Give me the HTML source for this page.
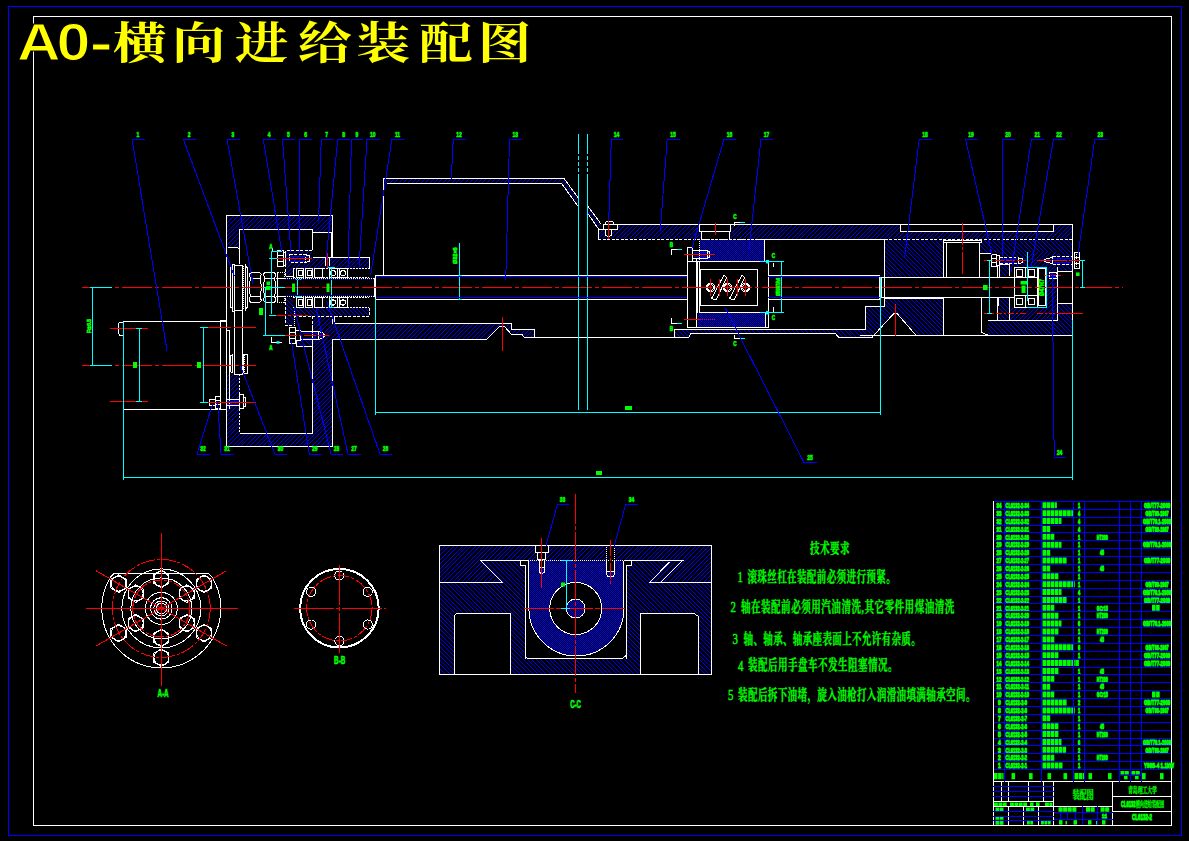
<!DOCTYPE html><html><head><meta charset="utf-8"><title>A0</title><style>html,body{margin:0;padding:0;background:#000;overflow:hidden;}svg{display:block;font-family:"Liberation Sans",sans-serif;}</style></head><body>
<svg width="1189" height="841" viewBox="0 0 1189 841">
<defs>
<pattern id="h1" width="22" height="22" patternUnits="userSpaceOnUse"><rect width="22" height="22" fill="#000"/><path d="M0 0h1v1h-1zM4 0h1v1h-1zM9 0h1v1h-1zM13 0h1v1h-1zM18 0h1v1h-1zM3 1h1v1h-1zM8 1h1v1h-1zM12 1h1v1h-1zM17 1h1v1h-1zM21 1h1v1h-1zM2 2h1v1h-1zM7 2h1v1h-1zM11 2h1v1h-1zM16 2h1v1h-1zM20 2h1v1h-1zM1 3h1v1h-1zM6 3h1v1h-1zM10 3h1v1h-1zM15 3h1v1h-1zM19 3h1v1h-1zM0 4h1v1h-1zM5 4h1v1h-1zM9 4h1v1h-1zM14 4h1v1h-1zM18 4h1v1h-1zM4 5h1v1h-1zM8 5h1v1h-1zM13 5h1v1h-1zM17 5h1v1h-1zM21 5h1v1h-1zM3 6h1v1h-1zM7 6h1v1h-1zM12 6h1v1h-1zM16 6h1v1h-1zM20 6h1v1h-1zM2 7h1v1h-1zM6 7h1v1h-1zM11 7h1v1h-1zM15 7h1v1h-1zM19 7h1v1h-1zM1 8h1v1h-1zM5 8h1v1h-1zM10 8h1v1h-1zM14 8h1v1h-1zM18 8h1v1h-1zM0 9h1v1h-1zM4 9h1v1h-1zM9 9h1v1h-1zM13 9h1v1h-1zM17 9h1v1h-1zM3 10h1v1h-1zM8 10h1v1h-1zM12 10h1v1h-1zM16 10h1v1h-1zM21 10h1v1h-1zM2 11h1v1h-1zM7 11h1v1h-1zM11 11h1v1h-1zM15 11h1v1h-1zM20 11h1v1h-1zM1 12h1v1h-1zM6 12h1v1h-1zM10 12h1v1h-1zM14 12h1v1h-1zM19 12h1v1h-1zM0 13h1v1h-1zM5 13h1v1h-1zM9 13h1v1h-1zM13 13h1v1h-1zM18 13h1v1h-1zM4 14h1v1h-1zM8 14h1v1h-1zM12 14h1v1h-1zM17 14h1v1h-1zM21 14h1v1h-1zM3 15h1v1h-1zM7 15h1v1h-1zM11 15h1v1h-1zM16 15h1v1h-1zM20 15h1v1h-1zM2 16h1v1h-1zM6 16h1v1h-1zM10 16h1v1h-1zM15 16h1v1h-1zM19 16h1v1h-1zM1 17h1v1h-1zM5 17h1v1h-1zM9 17h1v1h-1zM14 17h1v1h-1zM18 17h1v1h-1zM0 18h1v1h-1zM4 18h1v1h-1zM8 18h1v1h-1zM13 18h1v1h-1zM17 18h1v1h-1zM3 19h1v1h-1zM7 19h1v1h-1zM12 19h1v1h-1zM16 19h1v1h-1zM21 19h1v1h-1zM2 20h1v1h-1zM6 20h1v1h-1zM11 20h1v1h-1zM15 20h1v1h-1zM20 20h1v1h-1zM1 21h1v1h-1zM5 21h1v1h-1zM10 21h1v1h-1zM14 21h1v1h-1zM19 21h1v1h-1z" fill="#00f" shape-rendering="crispEdges"/></pattern>
<pattern id="h2" width="22" height="22" patternUnits="userSpaceOnUse"><rect width="22" height="22" fill="#000"/><path d="M0 0h1v1h-1zM4 0h1v1h-1zM9 0h1v1h-1zM13 0h1v1h-1zM18 0h1v1h-1zM1 1h1v1h-1zM5 1h1v1h-1zM10 1h1v1h-1zM14 1h1v1h-1zM19 1h1v1h-1zM2 2h1v1h-1zM6 2h1v1h-1zM11 2h1v1h-1zM15 2h1v1h-1zM20 2h1v1h-1zM3 3h1v1h-1zM7 3h1v1h-1zM12 3h1v1h-1zM16 3h1v1h-1zM21 3h1v1h-1zM0 4h1v1h-1zM4 4h1v1h-1zM8 4h1v1h-1zM13 4h1v1h-1zM17 4h1v1h-1zM1 5h1v1h-1zM5 5h1v1h-1zM9 5h1v1h-1zM14 5h1v1h-1zM18 5h1v1h-1zM2 6h1v1h-1zM6 6h1v1h-1zM10 6h1v1h-1zM15 6h1v1h-1zM19 6h1v1h-1zM3 7h1v1h-1zM7 7h1v1h-1zM11 7h1v1h-1zM16 7h1v1h-1zM20 7h1v1h-1zM4 8h1v1h-1zM8 8h1v1h-1zM12 8h1v1h-1zM17 8h1v1h-1zM21 8h1v1h-1zM0 9h1v1h-1zM5 9h1v1h-1zM9 9h1v1h-1zM13 9h1v1h-1zM18 9h1v1h-1zM1 10h1v1h-1zM6 10h1v1h-1zM10 10h1v1h-1zM14 10h1v1h-1zM19 10h1v1h-1zM2 11h1v1h-1zM7 11h1v1h-1zM11 11h1v1h-1zM15 11h1v1h-1zM20 11h1v1h-1zM3 12h1v1h-1zM8 12h1v1h-1zM12 12h1v1h-1zM16 12h1v1h-1zM21 12h1v1h-1zM0 13h1v1h-1zM4 13h1v1h-1zM9 13h1v1h-1zM13 13h1v1h-1zM17 13h1v1h-1zM1 14h1v1h-1zM5 14h1v1h-1zM10 14h1v1h-1zM14 14h1v1h-1zM18 14h1v1h-1zM2 15h1v1h-1zM6 15h1v1h-1zM11 15h1v1h-1zM15 15h1v1h-1zM19 15h1v1h-1zM3 16h1v1h-1zM7 16h1v1h-1zM12 16h1v1h-1zM16 16h1v1h-1zM20 16h1v1h-1zM4 17h1v1h-1zM8 17h1v1h-1zM13 17h1v1h-1zM17 17h1v1h-1zM21 17h1v1h-1zM0 18h1v1h-1zM5 18h1v1h-1zM9 18h1v1h-1zM14 18h1v1h-1zM18 18h1v1h-1zM1 19h1v1h-1zM6 19h1v1h-1zM10 19h1v1h-1zM15 19h1v1h-1zM19 19h1v1h-1zM2 20h1v1h-1zM7 20h1v1h-1zM11 20h1v1h-1zM16 20h1v1h-1zM20 20h1v1h-1zM3 21h1v1h-1zM8 21h1v1h-1zM12 21h1v1h-1zM17 21h1v1h-1zM21 21h1v1h-1z" fill="#00f" shape-rendering="crispEdges"/></pattern>
<pattern id="h3" width="7" height="7" patternUnits="userSpaceOnUse"><rect width="7" height="7" fill="#000"/><path d="M0 0h1v1h-1zM4 0h1v1h-1zM3 1h1v1h-1zM6 1h1v1h-1zM2 2h1v1h-1zM5 2h1v1h-1zM1 3h1v1h-1zM4 3h1v1h-1zM0 4h1v1h-1zM3 4h1v1h-1zM2 5h1v1h-1zM6 5h1v1h-1zM1 6h1v1h-1zM5 6h1v1h-1z" fill="#00f" shape-rendering="crispEdges"/></pattern>
<pattern id="h4" width="7" height="7" patternUnits="userSpaceOnUse"><rect width="7" height="7" fill="#000"/><path d="M0 0h1v1h-1zM4 0h1v1h-1zM1 1h1v1h-1zM5 1h1v1h-1zM2 2h1v1h-1zM6 2h1v1h-1zM0 3h1v1h-1zM3 3h1v1h-1zM1 4h1v1h-1zM4 4h1v1h-1zM2 5h1v1h-1zM5 5h1v1h-1zM3 6h1v1h-1zM6 6h1v1h-1z" fill="#00f" shape-rendering="crispEdges"/></pattern>
<pattern id="d1" width="2" height="2" patternUnits="userSpaceOnUse"><rect width="2" height="2" fill="#000"/><path d="M0 0h1v1h-1zM1 1h1v1h-1z" fill="#00f" shape-rendering="crispEdges"/></pattern>
<pattern id="d2" width="2" height="2" patternUnits="userSpaceOnUse"><rect width="2" height="2" fill="#000"/><path d="M0 0h1v1h-1zM1 1h1v1h-1z" fill="#00f" shape-rendering="crispEdges"/></pattern>
</defs>
<rect width="1189" height="841" fill="#000"/>
<g fill="none" stroke-width="1" shape-rendering="crispEdges">
<path d="M226 215L332.5 215L332.5 232L312.7 232L312.7 229L239.4 229L239.4 247L226 247Z" fill="url(#h1)" stroke="none"/>
<path d="M226 375L239.5 375L239.5 433L312.7 433L312.7 316L332 316L332 323.75L511.5 323.75L511.5 329.3L534.7 329.3L534.7 337.1L524.2 337.1L521.9 334.3L511.4 334.3L504.6 326.3L499.5 326.3L486.6 339.25L332.9 339.25L332.9 446L226 446Z" fill="url(#h1)" stroke="none"/>
<path d="M383.75 178.3L564 178.3L578.5 198.2L578.5 207L561.7 183.5L383.75 183.5Z" fill="url(#h1)" stroke="none"/>
<path d="M587.5 205.6L601.2 224.3L598.4 228.8L587.5 213.1Z" fill="url(#h1)" stroke="none"/>
<path d="M285.7 250L312 250L312 257L369.2 257L369.2 268.6L293.3 268.6L293.3 276.2L285.7 276.2Z" fill="url(#h1)" stroke="none"/>
<path d="M285.25 297.7L293.3 297.7L293.3 307.3L369.2 307.3L369.2 316.4L294.3 316.4L294.3 325.5L285.25 325.5Z" fill="url(#h2)" stroke="none"/>
<path d="M296.4 339.6L312.5 339.6L312.5 346.7L296.4 346.7Z" fill="url(#h2)" stroke="none"/>
<path d="M598.4 229.3L603.2 229.3L603.2 224L1072.3 224L1072.3 239L598.4 239Z" fill="url(#h1)" stroke="none"/>
<path d="M699 224L730.75 224L730.75 231.75L699 231.75Z" fill="#000" stroke="none"/>
<path d="M701 231.75L729 231.75L729 239L701 239Z" fill="#000" stroke="none"/>
<path d="M900.4 224L1053.7 224L1053.7 231.4L900.4 231.4Z" fill="#000" stroke="none"/>
<path d="M603.2 224L617.9 224L617.9 229.8L603.2 229.8Z" fill="#000" stroke="none"/>
<path d="M605.7 229.8L611.3 229.8L611.3 237.5L605.7 237.5Z" fill="#000" stroke="none"/>
<path d="M699 240L764.75 240L764.75 261.25L699 261.25Z" fill="url(#d2)" stroke="none"/>
<path d="M697.75 312.5L765.25 312.5L765.25 327.5L697.75 327.5Z" fill="url(#d2)" stroke="none"/>
<path d="M674 329.5L865.7 329.5L865.7 306.4L884.4 306.4L884.4 298.6L943.7 298.6L943.7 335.4L916.1 335.4L897.1 313.5L893.8 313.5L871.9 337.5L839 337.5L835.25 333.75L691 333.75L688.5 337.5L674 337.5Z" fill="url(#h2)" stroke="none"/>
<path d="M884.75 239.5L943.9 239.5L943.9 277.3L884.75 277.3Z" fill="url(#h2)" stroke="none"/>
<path d="M979.75 239.5L1072.3 239.5L1072.3 271.9L1057.9 271.9L1057.9 267.3L1046.3 267.3L1027.6 267.3L1014.4 267.3L1014.4 264.3L999.3 264.3L999.3 253.2L979.75 253.2Z" fill="url(#h2)" stroke="none"/>
<path d="M1046.3 252.2L1057.9 252.2L1057.9 320.3L1009.4 320.3L1009.4 307.7L1046.3 307.7Z" fill="url(#h1)" stroke="none"/>
<path d="M1027.6 252.2L1046.3 252.2L1046.3 267.3L1027.6 267.3Z" fill="url(#h1)" stroke="none"/>
<path d="M999.3 264.3L1009.9 264.3L1009.9 276L999.3 276Z" fill="url(#h2)" stroke="none"/>
<path d="M998.8 298.2L1009.4 298.2L1009.4 320.3L998.8 320.3Z" fill="url(#h2)" stroke="none"/>
<path d="M988.1 320.3L1057.9 320.3L1057.9 303.6L1072.3 303.6L1072.3 335.5L988.1 335.5Z" fill="url(#h2)" stroke="none"/>
<path d="M1057.9 271.9L1072.3 271.9L1072.3 303.6L1057.9 303.6Z" fill="#000" stroke="none"/>
<path d="M1038.2 268.9L1045.8 268.9L1045.8 305.8L1038.2 305.8Z" fill="#000" stroke="none"/>
<path d="M439.5 545.5L711.8 545.5L711.8 674.5L439.5 674.5Z" fill="url(#h2)" stroke="none"/>
<path d="M439.5 545.5L711.8 545.5L711.8 582.1L660.7 582.1L682.8 560.65L623.5 560.65L528.4 560.65L480.5 560.65L502.5 582.1L439.5 582.1Z" fill="url(#h1)" stroke="none"/>
<path d="M682.8 560.65L660.7 582.1L649.4 582.1L669.6 562Z" fill="url(#h1)" stroke="none"/>
<path d="M454.3 613.3L510.7 613.3L510.7 674.5L454.3 674.5Z" fill="#000" stroke="none"/>
<path d="M640.3 613.3L698 613.3L698 674.5L640.3 674.5Z" fill="#000" stroke="none"/>
<path d="M525.6 565.7L626.7 565.7L626.7 658.75L525.6 658.75Z" fill="#000" stroke="none"/>
<path d="M520.2 560.65L528.4 560.65L528.4 565.7L520.2 565.7Z" fill="#000" stroke="none"/>
<path d="M623.5 560.65L631 560.65L631 565.7L623.5 565.7Z" fill="#000" stroke="none"/>
<path d="M528.4 561.2H623.5V608.5A47.4 47.4 0 0 1 528.4 608.5Z" fill="url(#d2)" stroke="none"/>
<circle cx="575.7" cy="608.5" r="26" fill="#000" stroke="none"/>
<circle cx="575.7" cy="608.5" r="9.5" fill="url(#d2)" stroke="none"/>
<path d="M536 546.5L547.5 546.5L547.5 552L536 552Z" fill="#000" stroke="none"/>
<path d="M538.6 553L544.8 553L544.8 566.7L538.6 566.7Z" fill="#000" stroke="none"/>
<path d="M606.9 546.5L614.4 546.5L614.4 571L606.9 571Z" fill="#000" stroke="none"/>
</g>
<g fill="none" stroke-width="1" shape-rendering="crispEdges">
</g>
<g fill="none" stroke-width="1" shape-rendering="crispEdges">
<path d="M33.5 16.5L1171.5 16.5L1171.5 825.5L33.5 825.5Z" stroke="#fff" fill="none"/>
<path d="M226 321.5L123.5 321.5L123.5 409.5L226 409.5" stroke="#fff" fill="none"/>
<path d="M220.5 321L220.5 409" stroke="#fff"/>
<path d="M123.7 322.5L119.5 322.5L118.5 324L118.5 333L119.5 335.5L123.7 335.5" stroke="#fff" fill="none"/>
<path d="M226.5 446L226.5 215.5L332.5 215.5L332.5 257" stroke="#fff" fill="none"/>
<path d="M239.5 249L239.5 229.5L312.5 229.5L312.5 250" stroke="#fff" fill="none"/>
<path d="M312.7 232.5L331.5 232.5L331.5 257" stroke="#fff" fill="none"/>
<path d="M228 247.5L237.7 247.5L239.4 249" stroke="#fff" fill="none"/>
<path d="M239.5 249L239.5 264" stroke="#fff"/>
<path d="M226 446.5L332.5 446.5L332.5 339.25" stroke="#fff" fill="none"/>
<path d="M239.5 433.5L312.5 433.5L312.5 327" stroke="#fff" fill="none"/>
<path d="M226.5 375L226.5 446" stroke="#fff" stroke-dasharray="2 1.5"/>
<path d="M334.8 323.5L511.5 323.5L511.5 329.5L534.5 329.5L534.5 337.1" stroke="#fff" fill="none"/>
<path d="M332.9 339.5L486.6 339.5L499.5 326.5L504.6 326.5L511.4 334.5L521.9 334.5L524.2 337.5L579 337.5" stroke="#fff" fill="none"/>
<path d="M332.5 316.4L332.5 323.7" stroke="#fff" fill="none"/>
<path d="M334.5 316.4L334.5 323.7" stroke="#fff"/>
<path d="M383.5 275L383.5 178.5L564 178.5L578.5 198.2" stroke="#fff" fill="none"/>
<path d="M386.5 183.5L561.7 183.5L578.5 207" stroke="#fff" fill="none"/>
<path d="M587.5 205.6L601.2 224.3" stroke="#fff" fill="none"/>
<path d="M587.5 213.1L598.4 228.8" stroke="#fff" fill="none"/>
<path d="M375.5 299L375.5 275" stroke="#fff" fill="none"/>
<path d="M375.75 275.5L687 275.5" stroke="#fff"/>
<path d="M375.75 299.5L687 299.5" stroke="#fff"/>
<path d="M232.8 266.5L230.5 268L230.5 307L232.8 308.5" stroke="#fff" fill="none"/>
<path d="M232.5 264.5L234.5 264.5L234.5 311.5L232.5 311.5Z" stroke="#fff" fill="none"/>
<path d="M234.5 265.5L242.5 265.5L242.5 310.5L234.5 310.5Z" stroke="#fff" fill="none"/>
<path d="M243.5 266L243.5 309" stroke="#fff" stroke-dasharray="1 1"/>
<path d="M245.5 264L245.5 311" stroke="#fff"/>
<path d="M245.2 266L247.5 268L247.5 307L245.2 309" stroke="#fff" fill="none"/>
<path d="M251.1 272.5L259.3 272.5" stroke="#fff" fill="none"/>
<path d="M251.1 302.5L259.3 302.5" stroke="#fff" fill="none"/>
<path d="M250.1 278.5L260.3 278.5" stroke="#fff"/>
<path d="M250.1 296.5L260.3 296.5" stroke="#fff"/>
<path d="M251.1 272.3L249.1 274.3L250.4 278.64L249.1 285.4" stroke="#fff" fill="none"/>
<path d="M251.1 302.5L249.1 300.5L250.4 296.16L249.1 289.4" stroke="#fff" fill="none"/>
<path d="M259.3 272.3L261.3 274.3L260 278.64L261.3 285.4" stroke="#fff" fill="none"/>
<path d="M259.3 302.5L261.3 300.5L260 296.16L261.3 289.4" stroke="#fff" fill="none"/>
<path d="M249.5 285.4L249.5 289.4" stroke="#fff"/>
<path d="M261.5 285.4L261.5 289.4" stroke="#fff"/>
<path d="M265.4 272.5L273.9 272.5" stroke="#fff" fill="none"/>
<path d="M265.4 302.5L273.9 302.5" stroke="#fff" fill="none"/>
<path d="M264.4 278.5L274.9 278.5" stroke="#fff"/>
<path d="M264.4 296.5L274.9 296.5" stroke="#fff"/>
<path d="M265.4 272.3L263.4 274.3L264.7 278.64L263.4 285.4" stroke="#fff" fill="none"/>
<path d="M265.4 302.5L263.4 300.5L264.7 296.16L263.4 289.4" stroke="#fff" fill="none"/>
<path d="M273.9 272.3L275.9 274.3L274.6 278.64L275.9 285.4" stroke="#fff" fill="none"/>
<path d="M273.9 302.5L275.9 300.5L274.6 296.16L275.9 289.4" stroke="#fff" fill="none"/>
<path d="M263.5 285.4L263.5 289.4" stroke="#fff"/>
<path d="M275.5 285.4L275.5 289.4" stroke="#fff"/>
<path d="M275.9 278.5L285 278.5" stroke="#fff"/>
<path d="M275.9 296.5L285 296.5" stroke="#fff"/>
<path d="M277.5 272.3L277.5 302.5" stroke="#fff"/>
<path d="M277.5 272.5L284.5 272.5L284.5 278.5L277.5 278.5Z" stroke="#fff" fill="none" stroke-dasharray="1 1"/>
<path d="M277.5 296.5L284.5 296.5L284.5 302.5L277.5 302.5Z" stroke="#fff" fill="none" stroke-dasharray="1 1"/>
<path d="M285.5 276.2L285.5 250.5L312 250.5" stroke="#fff" fill="none" stroke-dasharray="3 1.5"/>
<path d="M312.7 257.5L369.5 257.5L369.5 268.6" stroke="#fff" fill="none"/>
<path d="M293.5 268.6L293.5 276.5L285.7 276.5" stroke="#fff" fill="none"/>
<path d="M285.5 297.7L285.5 325.5L294.3 325.5" stroke="#fff" fill="none" stroke-dasharray="3 1.5"/>
<path d="M294.3 316.5L369.5 316.5L369.5 307.3" stroke="#fff" fill="none" stroke-dasharray="3 1.5"/>
<path d="M294.5 307.3L294.5 325.5" stroke="#fff" stroke-dasharray="1 1"/>
<path d="M312.5 316.4L312.5 327" stroke="#fff" stroke-dasharray="3 1.5"/>
<path d="M296.5 339.6L296.5 346.5L312.5 346.5" stroke="#fff" fill="none"/>
<path d="M293.3 268.5L369.2 268.5" stroke="#fff" stroke-dasharray="2 1"/>
<path d="M293.3 277.5L369.2 277.5" stroke="#fff" stroke-dasharray="2 1"/>
<path d="M296.5 268.5L303.5 268.5L303.5 277.5L296.5 277.5Z" stroke="#fff" fill="none"/>
<path d="M305.5 268.5L312.5 268.5L312.5 277.5L305.5 277.5Z" stroke="#fff" fill="none"/>
<path d="M314.5 268.5L322.5 268.5L322.5 277.5L314.5 277.5Z" stroke="#fff" fill="none"/>
<path d="M329.5 268.5L337.5 268.5L337.5 277.5L329.5 277.5Z" stroke="#fff" fill="none"/>
<path d="M339.5 268.5L347.5 268.5L347.5 277.5L339.5 277.5Z" stroke="#fff" fill="none"/>
<path d="M298.5 270.5L302.5 270.5L302.5 275.5L298.5 275.5Z" stroke="#fff" fill="none"/>
<path d="M307.5 270.5L311.5 270.5L311.5 275.5L307.5 275.5Z" stroke="#fff" fill="none"/>
<circle cx="333" cy="273.15" r="2.6" stroke="#fff" fill="none"/>
<circle cx="343" cy="273.15" r="2.6" stroke="#fff" fill="none"/>
<path d="M293.3 297.5L369.2 297.5" stroke="#fff" stroke-dasharray="2 1"/>
<path d="M293.3 307.5L369.2 307.5" stroke="#fff" stroke-dasharray="2 1"/>
<path d="M296.5 297.5L303.5 297.5L303.5 307.5L296.5 307.5Z" stroke="#fff" fill="none"/>
<path d="M305.5 297.5L312.5 297.5L312.5 307.5L305.5 307.5Z" stroke="#fff" fill="none"/>
<path d="M314.5 297.5L322.5 297.5L322.5 307.5L314.5 307.5Z" stroke="#fff" fill="none"/>
<path d="M329.5 297.5L337.5 297.5L337.5 307.5L329.5 307.5Z" stroke="#fff" fill="none"/>
<path d="M339.5 297.5L347.5 297.5L347.5 307.5L339.5 307.5Z" stroke="#fff" fill="none"/>
<path d="M298.5 299.5L302.5 299.5L302.5 305.5L298.5 305.5Z" stroke="#fff" fill="none"/>
<path d="M307.5 299.5L311.5 299.5L311.5 305.5L307.5 305.5Z" stroke="#fff" fill="none"/>
<circle cx="333" cy="302.5" r="2.6" stroke="#fff" fill="none"/>
<circle cx="343" cy="302.5" r="2.6" stroke="#fff" fill="none"/>
<path d="M285 278.5L375 278.5" stroke="#fff" stroke-dasharray="1 1"/>
<path d="M285 296.5L375 296.5" stroke="#fff" stroke-dasharray="1 1"/>
<path d="M374.5 278.4L374.5 296.6" stroke="#fff"/>
<path d="M325.5 258L325.5 266" stroke="#fff" fill="none"/>
<path d="M329.5 258L329.5 266" stroke="#fff" fill="none"/>
<path d="M277.5 250.5L283.5 250.5L283.5 266.5L277.5 266.5Z" stroke="#fff" fill="none"/>
<path d="M277 255.5L283.7 255.5" stroke="#fff"/>
<path d="M277 261.5L283.7 261.5" stroke="#fff"/>
<path d="M283.5 252.5L285.5 252.5L285.5 265.5L283.5 265.5Z" stroke="#fff" fill="none"/>
<path d="M289.5 254.5L305.5 254.5L305.5 262.5L289.5 262.5Z" stroke="#fff" fill="none" stroke-dasharray="3 1.5"/>
<path d="M305 254.5L309.5 256L309.5 261L305 262.6" stroke="#fff" fill="none"/>
<path d="M289.5 327.5L295.5 327.5L295.5 343.5L289.5 343.5Z" stroke="#fff" fill="none"/>
<path d="M289.3 332.5L295.4 332.5" stroke="#fff"/>
<path d="M289.3 338.5L295.4 338.5" stroke="#fff"/>
<path d="M295.5 330.5L300.5 330.5L300.5 340.5L295.5 340.5Z" stroke="#fff" fill="none"/>
<path d="M300.5 331.5L318.5 331.5L318.5 339.5L300.5 339.5Z" stroke="#fff" fill="none"/>
<path d="M318.6 331.6L323 333L324.7 335.5L323 338L318.6 339.6" stroke="#fff" fill="none"/>
<path d="M271.5 337.1L271.5 342.5L281.7 342.5" stroke="#fff" fill="none"/>
<path d="M272.5 252L272.5 247.5L272.5 247.5" stroke="#fff" fill="none"/>
<path d="M234.5 310L234.5 374.3" stroke="#fff"/>
<path d="M242.5 310L242.5 374.3" stroke="#fff"/>
<path d="M232.6 354.3L230.5 356L230.5 371.5L232.6 373.3" stroke="#fff" fill="none"/>
<path d="M232.5 354.3L232.5 373.3" stroke="#fff"/>
<path d="M234 374.5L243 374.5" stroke="#fff"/>
<path d="M243.5 354.5L247.5 354.5L247.5 373.5L243.5 373.5Z" stroke="#fff" fill="none"/>
<path d="M244.5 355L244.5 373" stroke="#fff" stroke-dasharray="1 1"/>
<path d="M226.5 330.5L229.5 330.5L229.5 409" stroke="#fff" fill="none"/>
<path d="M239.5 374L239.5 433" stroke="#fff" stroke-dasharray="2 1.5"/>
<path d="M220.5 321.7L220.5 320.5L226.5 320.5" stroke="#fff" fill="none"/>
<path d="M209.5 399.5L215.5 399.5L215.5 405.5L209.5 405.5Z" stroke="#fff" fill="none"/>
<path d="M215.5 396.5L220.5 396.5L220.5 408.5L215.5 408.5Z" stroke="#fff" fill="none"/>
<path d="M215.5 400.5L220.3 400.5" stroke="#fff"/>
<path d="M215.5 404.5L220.3 404.5" stroke="#fff"/>
<path d="M226.5 399.5L239.5 399.5L239.5 405.5L226.5 405.5Z" stroke="#fff" fill="none"/>
<path d="M239.5 394.5L243.5 394.5L243.5 408.5L239.5 408.5Z" stroke="#fff" fill="none"/>
<path d="M243.5 397.5L245.5 397.5L245.5 406.5L243.5 406.5Z" stroke="#fff" fill="none"/>
<path d="M617.9 224.5L1072.3 224.5" stroke="#fff"/>
<path d="M598.4 239.5L764.75 239.5" stroke="#fff" stroke-dasharray="3 1.5"/>
<path d="M699 239.5L764.75 239.5" stroke="#fff" stroke-dasharray="1 1"/>
<path d="M764.75 239.5L884.75 239.5" stroke="#fff"/>
<path d="M884.75 239.5L1072.3 239.5" stroke="#fff" stroke-dasharray="3 1.5"/>
<path d="M603.2 229.5L598.5 229.5L598.5 239" stroke="#fff" fill="none"/>
<path d="M603.5 224.5L617.5 224.5L617.5 229.5L603.5 229.5Z" stroke="#fff" fill="none"/>
<path d="M605.5 224L605.5 222.5L607 221.5L612.5 221.5L613.5 222.5L613.5 224" stroke="#fff" fill="none"/>
<path d="M605.5 229.8L605.5 234.9L608.5 237.5L611.5 234.9L611.5 229.8" stroke="#fff" fill="none"/>
<path d="M699.5 224L699.5 231.5L730.5 231.5L730.5 224" stroke="#fff" fill="none"/>
<path d="M701.5 231.75L701.5 239" stroke="#fff" fill="none"/>
<path d="M729.5 231.75L729.5 239" stroke="#fff" fill="none"/>
<path d="M900.5 224L900.5 231.5L1053.5 231.5L1053.5 224" stroke="#fff" fill="none"/>
<path d="M764.5 239L764.5 261.25" stroke="#fff"/>
<path d="M699.5 239L699.5 261.25" stroke="#fff" stroke-dasharray="1 1"/>
<path d="M687.5 261.5L768.5 261.5L768.5 327.5L687.5 327.5Z" stroke="#fff" fill="none"/>
<path d="M687.5 248L687.5 327" stroke="#fff"/>
<path d="M696.5 261.25L696.5 327" stroke="#fff"/>
<path d="M697.5 261.25L697.5 312.5" stroke="#fff"/>
<path d="M699.5 261.25L699.5 312.5" stroke="#fff"/>
<path d="M699.5 312.5L768.25 312.5" stroke="#fff"/>
<path d="M765.5 312.5L765.5 327.5" stroke="#fff"/>
<path d="M700.5 269.5L757.5 269.5L757.5 305.5L700.5 305.5Z" stroke="#fff" fill="none"/>
<circle cx="710.25" cy="287.5" r="4.3" stroke="#fff" fill="none"/>
<circle cx="710.25" cy="287.5" r="3" stroke="#fff" fill="none"/>
<circle cx="727.25" cy="287.5" r="4.3" stroke="#fff" fill="none"/>
<circle cx="727.25" cy="287.5" r="3" stroke="#fff" fill="none"/>
<circle cx="745.75" cy="287.5" r="4.3" stroke="#fff" fill="none"/>
<circle cx="745.75" cy="287.5" r="3" stroke="#fff" fill="none"/>
<path d="M711.5 298.5L724 275L726.8 277.5L716 300Z" stroke="#fff" fill="none"/>
<path d="M729.5 298.5L742 275L744.8 277.5L734 300Z" stroke="#fff" fill="none"/>
<path d="M687.5 247.5L692.5 247.5L692.5 261.5L687.5 261.5Z" stroke="#fff" fill="none"/>
<path d="M692.5 250.5L707.5 250.5L707.5 258.5L692.5 258.5Z" stroke="#fff" fill="none"/>
<path d="M707 250.5L709.5 252L709.5 257L707 258" stroke="#fff" fill="none"/>
<path d="M687 261.5L696.5 261.5L697 259" stroke="#fff" fill="none"/>
<path d="M768.25 275.5L880.25 275.5" stroke="#fff"/>
<path d="M768.25 299.5L880.25 299.5" stroke="#fff"/>
<path d="M879.5 275L879.5 299" stroke="#fff"/>
<path d="M881.5 277L881.5 298" stroke="#fff"/>
<path d="M773.5 262.5L773.5 267" stroke="#fff"/>
<path d="M773.5 307L773.5 312" stroke="#fff"/>
<path d="M734.5 226L734.5 222.5L745.25 222.5" stroke="#fff" fill="none"/>
<path d="M734.5 334.5L734.5 338.5L744.75 338.5" stroke="#fff" fill="none"/>
<path d="M671.5 255L671.5 249.5L681.5 249.5" stroke="#fff" fill="none"/>
<path d="M671.5 317.5L671.5 323.5L681.5 323.5" stroke="#fff" fill="none"/>
<path d="M674.5 329.5L865.5 329.5L865.5 306.5L884.5 306.5L884.5 298.5L943.5 298.5L943.5 335.5L916.1 335.5L897.1 313.5L893.8 313.5L871.9 337.5L839 337.5L835.25 333.5L691 333.5L688.5 337.5L674.5 337.5Z" stroke="#fff" fill="none"/>
<path d="M534.5 337.5L674 337.5" stroke="#fff"/>
<path d="M884.5 239.5L884.5 277.5L943.5 277.5L943.5 239.5" stroke="#fff" fill="none"/>
<path d="M943.5 240.5L981.5 240.5L981.5 242.5L943.5 242.5Z" stroke="#fff" fill="none"/>
<path d="M946.5 242.2L946.5 277.3" stroke="#fff"/>
<path d="M979.5 242.2L979.5 277.3" stroke="#fff"/>
<path d="M943.5 299.2L943.5 334.6" stroke="#fff"/>
<path d="M981.5 298L981.5 332.5" stroke="#fff"/>
<path d="M981.5 332.5L987.6 335" stroke="#fff" fill="none"/>
<path d="M1014.4 277.5L881.5 277.5L881.5 297.5L1014.4 297.5" stroke="#fff" fill="none"/>
<path d="M884.5 277.3L884.5 297.4" stroke="#fff"/>
<path d="M1072.5 224L1072.5 320.8" stroke="#fff"/>
<path d="M979.5 242.2L979.5 277.3" stroke="#fff"/>
<path d="M979.75 253.5L991.7 253.5" stroke="#fff" fill="none"/>
<path d="M997.5 266L997.5 277.3" stroke="#fff"/>
<path d="M999.5 264.3L999.5 277.3" stroke="#fff"/>
<path d="M999.3 264.5L1009.5 264.5L1009.5 276" stroke="#fff" fill="none"/>
<path d="M997.5 297.6L997.5 320.3" stroke="#fff"/>
<path d="M998.5 297.6L998.5 306" stroke="#fff"/>
<path d="M1009.5 298.2L1009.5 320.3" stroke="#fff"/>
<path d="M988.1 320.5L1057.9 320.5" stroke="#fff"/>
<path d="M1057.5 267.3L1057.5 320.3" stroke="#fff"/>
<path d="M1057.9 271.5L1072.3 271.5" stroke="#fff"/>
<path d="M1057.9 303.5L1072.3 303.5" stroke="#fff"/>
<path d="M860 335.5L1072.3 335.5" stroke="#fff"/>
<path d="M1014.5 267.5L1037.5 267.5L1037.5 307.5L1014.5 307.5Z" stroke="#fff" fill="none"/>
<path d="M1014.4 277.5L1037.2 277.5" stroke="#fff"/>
<path d="M1014.4 295.5L1037.2 295.5" stroke="#fff"/>
<path d="M1016.5 269.5L1022.5 269.5L1022.5 276.5L1016.5 276.5Z" stroke="#fff" fill="none"/>
<path d="M1016.5 298.5L1022.5 298.5L1022.5 304.5L1016.5 304.5Z" stroke="#fff" fill="none"/>
<path d="M1028.5 269.5L1034.5 269.5L1034.5 276.5L1028.5 276.5Z" stroke="#fff" fill="none"/>
<path d="M1028.5 298.5L1034.5 298.5L1034.5 304.5L1028.5 304.5Z" stroke="#fff" fill="none"/>
<path d="M1025.5 267.3L1025.5 277.5" stroke="#fff"/>
<path d="M1025.5 295.7L1025.5 307.3" stroke="#fff"/>
<path d="M1038.5 268.5L1045.5 268.5L1045.5 305.5L1038.5 305.5Z" stroke="#fff" fill="none"/>
<path d="M991.5 254.5L996.5 254.5L996.5 266.5L991.5 266.5Z" stroke="#fff" fill="none"/>
<path d="M991.7 258.5L996.7 258.5" stroke="#fff"/>
<path d="M991.7 262.5L996.7 262.5" stroke="#fff"/>
<path d="M996.5 255.5L999.5 255.5L999.5 265.5L996.5 265.5Z" stroke="#fff" fill="none"/>
<path d="M999.5 257.5L1018.5 257.5L1018.5 263.5L999.5 263.5Z" stroke="#fff" fill="none" stroke-dasharray="3 1.5"/>
<path d="M1018 257.7L1022.5 259L1022.5 262.5L1018 263.8" stroke="#fff" fill="none"/>
<path d="M1074.5 252.5L1079.5 252.5L1079.5 268.5L1074.5 268.5Z" stroke="#fff" fill="none"/>
<path d="M1074 257.5L1079.6 257.5" stroke="#fff"/>
<path d="M1074 263.5L1079.6 263.5" stroke="#fff"/>
<path d="M1076.5 252.2L1076.5 268.9" stroke="#fff" stroke-dasharray="1 1"/>
<path d="M1052.5 256.5L1072.5 256.5L1072.5 264.5L1052.5 264.5Z" stroke="#fff" fill="none" stroke-dasharray="3 1.5"/>
<path d="M1052.8 257.5L1047 258.5L1043.7 260.5L1047 262.5L1052.8 263.5" stroke="#fff" fill="none"/>
<path d="M1049.5 272.5L1056.5 272.5L1056.5 278.5L1049.5 278.5Z" stroke="#fff" fill="none"/>
<path d="M111.07 576.5A59.5 59.5 0 1 0 211.53 576.5" stroke="#fff" fill="none"/>
<path d="M111.07 576.5L114 573.5L208.4 573.5L211.53 576.5" stroke="#fff" fill="none"/>
<circle cx="161.3" cy="608.4" r="39.5" stroke="#fff" fill="none"/>
<circle cx="161.3" cy="608.4" r="16" stroke="#fff" fill="none"/>
<circle cx="161.3" cy="608.4" r="10.7" stroke="#fff" fill="none"/>
<circle cx="161.3" cy="608.4" r="7.5" stroke="#fff" fill="none"/>
<circle cx="161.3" cy="608.4" r="5.3" stroke="#fff" fill="none"/>
<circle cx="161.3" cy="608.4" r="30.5" stroke="#fff" fill="none"/>
<path d="M204 592.55L196.37 588.15L196.37 579.35L204 574.95L211.62 579.35L211.62 588.15Z" stroke="#fff" fill="none"/>
<circle cx="204" cy="583.75" r="7.4" stroke="#fff" fill="none"/>
<path d="M118.6 592.55L110.98 588.15L110.98 579.35L118.6 574.95L126.23 579.35L126.23 588.15Z" stroke="#fff" fill="none"/>
<circle cx="118.6" cy="583.75" r="7.4" stroke="#fff" fill="none"/>
<path d="M118.6 641.85L110.98 637.45L110.98 628.65L118.6 624.25L126.23 628.65L126.23 637.45Z" stroke="#fff" fill="none"/>
<circle cx="118.6" cy="633.05" r="7.4" stroke="#fff" fill="none"/>
<path d="M204 641.85L196.37 637.45L196.37 628.65L204 624.25L211.62 628.65L211.62 637.45Z" stroke="#fff" fill="none"/>
<circle cx="204" cy="633.05" r="7.4" stroke="#fff" fill="none"/>
<path d="M161.3 666.5L153.68 662.1L153.68 653.3L161.3 648.9L168.92 653.3L168.92 662.1Z" stroke="#fff" fill="none"/>
<circle cx="161.3" cy="657.7" r="7.4" stroke="#fff" fill="none"/>
<path d="M186.85 602.45L179.23 598.05L179.23 589.25L186.85 584.85L194.47 589.25L194.47 598.05Z" stroke="#fff" fill="none"/>
<circle cx="186.85" cy="593.65" r="7.4" stroke="#fff" fill="none"/>
<path d="M161.3 587.7L153.68 583.3L153.68 574.5L161.3 570.1L168.92 574.5L168.92 583.3Z" stroke="#fff" fill="none"/>
<circle cx="161.3" cy="578.9" r="7.4" stroke="#fff" fill="none"/>
<path d="M135.75 602.45L128.13 598.05L128.13 589.25L135.75 584.85L143.37 589.25L143.37 598.05Z" stroke="#fff" fill="none"/>
<circle cx="135.75" cy="593.65" r="7.4" stroke="#fff" fill="none"/>
<path d="M135.75 631.95L128.13 627.55L128.13 618.75L135.75 614.35L143.37 618.75L143.37 627.55Z" stroke="#fff" fill="none"/>
<circle cx="135.75" cy="623.15" r="7.4" stroke="#fff" fill="none"/>
<path d="M161.3 646.7L153.68 642.3L153.68 633.5L161.3 629.1L168.92 633.5L168.92 642.3Z" stroke="#fff" fill="none"/>
<circle cx="161.3" cy="637.9" r="7.4" stroke="#fff" fill="none"/>
<path d="M186.85 631.95L179.23 627.55L179.23 618.75L186.85 614.35L194.47 618.75L194.47 627.55Z" stroke="#fff" fill="none"/>
<circle cx="186.85" cy="623.15" r="7.4" stroke="#fff" fill="none"/>
<circle cx="339.4" cy="608.2" r="39.3" stroke="#fff" fill="none" stroke-width="2"/>
<circle cx="367.72" cy="591.85" r="4.6" stroke="#fff" fill="none"/>
<circle cx="339.4" cy="575.5" r="4.6" stroke="#fff" fill="none"/>
<circle cx="311.08" cy="591.85" r="4.6" stroke="#fff" fill="none"/>
<circle cx="311.08" cy="624.55" r="4.6" stroke="#fff" fill="none"/>
<circle cx="339.4" cy="640.9" r="4.6" stroke="#fff" fill="none"/>
<circle cx="367.72" cy="624.55" r="4.6" stroke="#fff" fill="none"/>
<path d="M439.5 545.5L711.5 545.5L711.5 674.5L439.5 674.5Z" stroke="#fff" fill="none"/>
<path d="M439.5 582.5L502.5 582.5L480.5 560.5L520.5 560.5L520.5 565.5L525.5 565.5L525.5 658.75" stroke="#fff" fill="none"/>
<path d="M520.2 560.5L528.4 560.5" stroke="#fff"/>
<path d="M528.4 560.5L623.5 560.5" stroke="#fff" stroke-dasharray="1 1"/>
<path d="M711.8 582.5L649.4 582.5L669.6 562" stroke="#fff" fill="none"/>
<path d="M660.7 582.1L682.8 560.5L623.5 560.5" stroke="#fff" fill="none"/>
<path d="M631.5 560.65L631.5 565.5L626.5 565.5L626.5 658.75" stroke="#fff" fill="none"/>
<path d="M525.6 657L527.5 658.5L622.5 658.5L626.7 655" stroke="#fff" fill="none"/>
<path d="M528.9 560.65V608.5A47.4 47.4 0 0 0 623.9 608.5V560.65" stroke="#fff" fill="none"/>
<circle cx="575.7" cy="608.5" r="26" stroke="#fff" fill="none"/>
<circle cx="575.7" cy="608.5" r="9.5" stroke="#fff" fill="none"/>
<path d="M454.5 674.5L454.5 615.3L456.3 613.5L510.5 613.5L510.5 674.5" stroke="#fff" fill="none"/>
<path d="M640.5 674.5L640.5 613.5L694 613.5L698.5 616.5L698.5 674.5" stroke="#fff" fill="none"/>
<path d="M535.5 545.5L548.5 545.5L548.5 552.5L535.5 552.5Z" stroke="#fff" fill="none"/>
<path d="M537.5 552.5L545.5 552.5L545.5 559.5L537.5 559.5Z" stroke="#fff" fill="none"/>
<path d="M539.5 559.5L544.5 559.5L544.5 567.5L539.5 567.5Z" stroke="#fff" fill="none"/>
<path d="M539.5 567.2L539.5 572L541.5 574.2L544.5 572L544.5 567.2" stroke="#fff" fill="none"/>
<path d="M606.5 545.5L614.5 545.5L614.5 571.5L606.5 571.5Z" stroke="#fff" fill="none" stroke-dasharray="1 1"/>
<path d="M606.5 560.65L606.5 571" stroke="#fff"/>
<path d="M614.5 560.65L614.5 571" stroke="#fff"/>
<path d="M606.5 571L606.5 574L608 576.5L613 576.5L614.5 574L614.5 571.5L606.2 571.5" stroke="#fff" fill="none"/>
<path d="M993.5 501.4L993.5 825" stroke="#fff"/>
<path d="M993 781.5L1171 781.5" stroke="#fff"/>
<path d="M1053.5 781.5L1053.5 825" stroke="#fff"/>
<path d="M1112.5 781.5L1112.5 825" stroke="#fff"/>
<path d="M1112.5 796.5L1171 796.5" stroke="#fff"/>
<path d="M1112.5 811.5L1171 811.5" stroke="#fff"/>
<path d="M993 806.5L1112.5 806.5" stroke="#fff"/>
<path d="M993 801.5L1053.7 801.5" stroke="#fff"/>
<path d="M1001.5 781.5L1001.5 801.5" stroke="#fff"/>
<path d="M1008.5 781.5L1008.5 801.5" stroke="#fff"/>
<path d="M1028.5 781.5L1028.5 801.5" stroke="#fff"/>
<path d="M1043.5 781.5L1043.5 801.5" stroke="#fff"/>
<path d="M1008.5 806L1008.5 825" stroke="#fff"/>
<path d="M1023.5 806L1023.5 825" stroke="#fff"/>
<path d="M1038.5 806L1038.5 825" stroke="#fff"/>
</g>
<g fill="none" stroke-width="1" shape-rendering="crispEdges">
<path d="M82 287.5L1123 287.5" stroke="#f00" stroke-dasharray="30 3 4 3"/>
<path d="M82 365.5L256 365.5" stroke="#f00" stroke-dasharray="30 3 4 3"/>
<path d="M110 328.5L148 328.5" stroke="#f00"/>
<path d="M110 401.5L148 401.5" stroke="#f00"/>
<path d="M207 327.5L256 327.5" stroke="#f00" stroke-dasharray="24 3"/>
<path d="M207 402.5L256 402.5" stroke="#f00"/>
<path d="M502.5 316.8L502.5 351" stroke="#f00"/>
<path d="M327.5 253L327.5 268" stroke="#f00"/>
<path d="M276 258.5L312 258.5" stroke="#f00"/>
<path d="M285.25 335.5L328.7 335.5" stroke="#f00" stroke-dasharray="12 2 3 2"/>
<path d="M276.2 315.5L310 315.5" stroke="#f00" stroke-dasharray="10 2 3 2"/>
<path d="M208.4 402.5L256 402.5" stroke="#f00" stroke-dasharray="20 2 3 2"/>
<path d="M608.5 218.2L608.5 239.4" stroke="#f00"/>
<path d="M715.5 223L715.5 235" stroke="#f00"/>
<path d="M710.5 279L710.5 296" stroke="#f00"/>
<path d="M727.5 279L727.5 296" stroke="#f00"/>
<path d="M745.5 279L745.5 296" stroke="#f00"/>
<path d="M719.5 279L719.5 296" stroke="#f00"/>
<path d="M737.5 279L737.5 296" stroke="#f00"/>
<path d="M684 254.5L715 254.5" stroke="#f00"/>
<path d="M684 319.5L700 319.5" stroke="#f00"/>
<path d="M700 319.5L715.25 319.5" stroke="#f00" stroke-dasharray="1 1"/>
<path d="M895.5 304L895.5 336" stroke="#f00"/>
<path d="M962.5 223.4L962.5 276" stroke="#f00" stroke-dasharray="22 2 3 2"/>
<path d="M1044.2 275.5L1061 275.5" stroke="#f00" stroke-dasharray="5 2"/>
<path d="M984.1 260.5L1026.6 260.5" stroke="#f00" stroke-dasharray="9 2"/>
<path d="M1037.2 260.5L1083.7 260.5" stroke="#f00" stroke-dasharray="14 2"/>
<path d="M984.1 313.5L1027 313.5" stroke="#f00" stroke-dasharray="6 2 2 2"/>
<path d="M1037.2 313.5L1058 313.5" stroke="#f00" stroke-dasharray="6 2 2 2"/>
<path d="M1058 313.5L1083 313.5" stroke="#f00"/>
<circle cx="161.3" cy="608.4" r="49" stroke="#f00" fill="none" stroke-dasharray="14 2 3 2"/>
<circle cx="161.3" cy="608.4" r="28.5" stroke="#f00" fill="none" stroke-dasharray="14 2 3 2"/>
<path d="M86 608.5L238 608.5" stroke="#f00"/>
<path d="M161.5 532.8L161.5 686" stroke="#f00"/>
<path d="M96.09 646.05L226.51 570.75" stroke="#f00"/>
<path d="M226.51 646.05L96.09 570.75" stroke="#f00"/>
<circle cx="339.4" cy="608.2" r="32.7" stroke="#f00" fill="none" stroke-dasharray="12 2 3 2"/>
<path d="M294 608.5L386 608.5" stroke="#f00" stroke-dasharray="40 2 4 2"/>
<path d="M339.5 565L339.5 654" stroke="#f00" stroke-dasharray="40 2 4 2"/>
<path d="M541.5 538.2L541.5 588" stroke="#f00"/>
<path d="M610.5 540L610.5 583.6" stroke="#f00" stroke-dasharray="16 2 3 2"/>
<path d="M575.5 494L575.5 693" stroke="#f00" stroke-dasharray="30 2 4 2"/>
<path d="M524 608.5L625 608.5" stroke="#f00" stroke-dasharray="30 2 5 2"/>
</g>
<g fill="none" stroke-width="1" shape-rendering="crispEdges">
<path d="M139.5 328L139.5 401" stroke="#0ff"/>
<path d="M136 328.5L142 328.5" stroke="#0ff"/>
<path d="M136 401.5L142 401.5" stroke="#0ff"/>
<path d="M203.5 327L203.5 402" stroke="#0ff"/>
<path d="M200 327.5L208 327.5" stroke="#0ff"/>
<path d="M200 402.5L208 402.5" stroke="#0ff"/>
<path d="M92.5 287L92.5 365" stroke="#0ff"/>
<path d="M90 287.5L112 287.5" stroke="#0ff"/>
<path d="M90 365.5L112 365.5" stroke="#0ff"/>
<path d="M123.5 321.5L123.5 480" stroke="#0ff"/>
<path d="M578.5 134L578.5 154" stroke="#0ff"/>
<path d="M578.5 156L578.5 172" stroke="#0ff" stroke-dasharray="4 2"/>
<path d="M578.5 174L578.5 410" stroke="#0ff"/>
<path d="M587.5 134L587.5 154" stroke="#0ff"/>
<path d="M587.5 156L587.5 172" stroke="#0ff" stroke-dasharray="4 2"/>
<path d="M587.5 174L587.5 410" stroke="#0ff"/>
<path d="M459.5 243L459.5 299" stroke="#0ff"/>
<path d="M457.5 299.5L462 299.5" stroke="#0ff"/>
<path d="M457.5 275.5L462 275.5" stroke="#0ff"/>
<path d="M375.5 299L375.5 415" stroke="#0ff"/>
<path d="M375.75 412.5L880.75 412.5" stroke="#0ff"/>
<path d="M880.5 277L880.5 415" stroke="#0ff"/>
<path d="M123 477.5L1072.3 477.5" stroke="#0ff"/>
<path d="M1072.5 320L1072.5 480" stroke="#0ff"/>
<path d="M271.5 251.4L271.5 314.4" stroke="#0ff"/>
<path d="M271.6 251.5L281.6 251.5" stroke="#0ff"/>
<path d="M269 258.5L276.6 258.5" stroke="#0ff"/>
<path d="M269 315.5L276 315.5" stroke="#0ff"/>
<path d="M265.5 287.5L265.5 335.4" stroke="#0ff"/>
<path d="M263 335.5L285 335.5" stroke="#0ff"/>
<path d="M263 287.5L284.7 287.5" stroke="#0ff"/>
<path d="M297.5 279L297.5 296" stroke="#0ff"/>
<path d="M295 279.5L301 279.5" stroke="#0ff"/>
<path d="M295 296.5L301 296.5" stroke="#0ff"/>
<path d="M331.5 267.4L331.5 307.3" stroke="#0ff"/>
<path d="M327.7 307.5L333.8 307.5" stroke="#0ff"/>
<path d="M328 267.5L335 267.5" stroke="#0ff"/>
<path d="M781.5 261.25L781.5 312.5" stroke="#0ff"/>
<path d="M760 261.5L784 261.5" stroke="#0ff"/>
<path d="M760 312.5L784 312.5" stroke="#0ff"/>
<path d="M740 222.5L745 222.5" stroke="#0ff"/>
<path d="M740 338.5L745 338.5" stroke="#0ff"/>
<path d="M676.5 249.5L681.5 249.5" stroke="#0ff"/>
<path d="M676.5 323.5L681.5 323.5" stroke="#0ff"/>
<path d="M989.5 260.5L989.5 313.3" stroke="#0ff"/>
<path d="M987 260.5L992 260.5" stroke="#0ff"/>
<path d="M987 313.5L992 313.5" stroke="#0ff"/>
<path d="M1027.5 252.2L1027.5 300.7" stroke="#0ff"/>
<path d="M1027.6 267.5L1047.3 267.5" stroke="#0ff"/>
<path d="M1046.5 267.3L1046.5 307.3" stroke="#0ff"/>
<path d="M1027 307.5L1047.3 307.5" stroke="#0ff"/>
<path d="M1082.5 260.5L1082.5 287.5" stroke="#0ff"/>
<path d="M1080 260.5L1084.5 260.5" stroke="#0ff"/>
<path d="M1080 287.5L1084.5 287.5" stroke="#0ff"/>
<path d="M566.5 560.65L566.5 608.5" stroke="#0ff"/>
<path d="M561.2 560.5L572 560.5" stroke="#0ff"/>
<path d="M561 608.5L570 608.5" stroke="#0ff"/>
</g>
<g fill="none" stroke-width="1" shape-rendering="crispEdges">
<path d="M8.5 6.5L1181.5 6.5L1181.5 835.5L8.5 835.5Z" stroke="#00f" fill="none"/>
<path d="M132 139.5L144.5 139.5" stroke="#00f"/>
<path d="M132 139L167 350.5" stroke="#00f"/>
<path d="M183.25 139.5L195.75 139.5" stroke="#00f"/>
<path d="M183.25 139L234.5 276.5" stroke="#00f"/>
<path d="M227 139.5L239.5 139.5" stroke="#00f"/>
<path d="M227 139L253 284" stroke="#00f"/>
<path d="M263.25 139.5L275.75 139.5" stroke="#00f"/>
<path d="M263.25 139L281.6 250.5" stroke="#00f"/>
<path d="M282.5 139.5L295 139.5" stroke="#00f"/>
<path d="M282.5 139L290.8 250.5" stroke="#00f"/>
<path d="M300 139.5L312 139.5" stroke="#00f"/>
<path d="M300 139L299.5 251.3" stroke="#00f"/>
<path d="M321.25 139.5L332.75 139.5" stroke="#00f"/>
<path d="M321.25 139L318.6 221" stroke="#00f"/>
<path d="M337.75 139.5L350.25 139.5" stroke="#00f"/>
<path d="M337.75 139L326.2 258.9" stroke="#00f"/>
<path d="M351.5 139.5L363.25 139.5" stroke="#00f"/>
<path d="M351.5 139L348 267.3" stroke="#00f"/>
<path d="M367 139.5L379.5 139.5" stroke="#00f"/>
<path d="M367 139L359 267.3" stroke="#00f"/>
<path d="M392 139.5L404 139.5" stroke="#00f"/>
<path d="M392 139L370.7 274.9" stroke="#00f"/>
<path d="M453.25 139.5L465.75 139.5" stroke="#00f"/>
<path d="M453.25 139L451.25 179" stroke="#00f"/>
<path d="M509.5 139.5L522 139.5" stroke="#00f"/>
<path d="M509.5 139L505.75 280" stroke="#00f"/>
<path d="M611.3 139.5L622.6 139.5" stroke="#00f"/>
<path d="M611.3 139L608.75 221" stroke="#00f"/>
<path d="M667.2 139.5L679.8 139.5" stroke="#00f"/>
<path d="M667.2 139L660.25 231.25" stroke="#00f"/>
<path d="M724 139.5L736 139.5" stroke="#00f"/>
<path d="M724 139L691.5 250" stroke="#00f"/>
<path d="M761 139.5L772.75 139.5" stroke="#00f"/>
<path d="M761 139L749 250" stroke="#00f"/>
<path d="M919.25 139.5L931.5 139.5" stroke="#00f"/>
<path d="M919.25 139L904.75 257.5" stroke="#00f"/>
<path d="M965.5 139.5L977.75 139.5" stroke="#00f"/>
<path d="M965.5 139L992.25 256" stroke="#00f"/>
<path d="M1002.25 139.5L1014.75 139.5" stroke="#00f"/>
<path d="M1002.5 139L1002.5 256" stroke="#00f"/>
<path d="M1031.5 139.5L1044 139.5" stroke="#00f"/>
<path d="M1031.5 139L1011 272.5" stroke="#00f"/>
<path d="M1053.5 139.5L1065.25 139.5" stroke="#00f"/>
<path d="M1053.5 139L1031 267.5" stroke="#00f"/>
<path d="M1094.75 139.5L1106.75 139.5" stroke="#00f"/>
<path d="M1094.75 139L1078 255" stroke="#00f"/>
<path d="M197.1 454.5L209.8 454.5" stroke="#00f"/>
<path d="M197.1 454L212.6 404" stroke="#00f"/>
<path d="M221 454.5L234 454.5" stroke="#00f"/>
<path d="M221 454L217.7 402" stroke="#00f"/>
<path d="M274.9 454.5L287 454.5" stroke="#00f"/>
<path d="M274.9 454L240.4 366" stroke="#00f"/>
<path d="M309.3 454.5L321 454.5" stroke="#00f"/>
<path d="M309.3 454L291.4 341" stroke="#00f"/>
<path d="M331 454.5L343 454.5" stroke="#00f"/>
<path d="M331 454L293.6 305.7" stroke="#00f"/>
<path d="M348 454.5L361 454.5" stroke="#00f"/>
<path d="M348 454L316 307.8" stroke="#00f"/>
<path d="M380 454.5L392 454.5" stroke="#00f"/>
<path d="M380 454L326.8 301.4" stroke="#00f"/>
<path d="M804 462.5L817 462.5" stroke="#00f"/>
<path d="M804 462.5L725.25 308" stroke="#00f"/>
<path d="M1054.2 457.5L1065.8 457.5" stroke="#00f"/>
<path d="M1054.2 457.3L1052.3 273" stroke="#00f"/>
<path d="M557.5 504.5L568.75 504.5" stroke="#00f"/>
<path d="M557.5 504L545.5 547.5" stroke="#00f"/>
<path d="M625.75 504.5L638 504.5" stroke="#00f"/>
<path d="M625.75 504L613.75 547.5" stroke="#00f"/>
<path d="M375.75 276.5L687 276.5" stroke="#00f"/>
<path d="M375.75 297.5L687 297.5" stroke="#00f"/>
<path d="M285 279.5L375 279.5" stroke="#00f" stroke-dasharray="1 1"/>
<path d="M285 295.5L375 295.5" stroke="#00f" stroke-dasharray="1 1"/>
<path d="M289 256.5L305 256.5" stroke="#00f"/>
<path d="M289 261.5L305 261.5" stroke="#00f"/>
<path d="M303 333.5L317 333.5" stroke="#00f"/>
<path d="M303 338.5L317 338.5" stroke="#00f"/>
<path d="M227 401.5L239 401.5" stroke="#00f"/>
<path d="M227 404.5L239 404.5" stroke="#00f"/>
<path d="M694 252.5L706 252.5" stroke="#00f"/>
<path d="M694 256.5L706 256.5" stroke="#00f"/>
<path d="M768.25 276.5L880.25 276.5" stroke="#00f"/>
<path d="M768.25 297.5L880.25 297.5" stroke="#00f"/>
<path d="M1001 259.5L1017 259.5" stroke="#00f"/>
<path d="M1001 262.5L1017 262.5" stroke="#00f"/>
<path d="M1054 258.5L1071 258.5" stroke="#00f"/>
<path d="M1054 262.5L1071 262.5" stroke="#00f"/>
<path d="M1049.3 274.5L1056.9 274.5" stroke="#00f"/>
<path d="M1049.3 277.5L1056.9 277.5" stroke="#00f"/>
</g>
<g>
<text transform="translate(137.75 137) scale(0.62 1)" font-size="8" font-weight="bold" fill="#0f0" stroke="#0f0" stroke-width="0.6" text-anchor="middle">1</text>
<text transform="translate(189 137) scale(0.62 1)" font-size="8" font-weight="bold" fill="#0f0" stroke="#0f0" stroke-width="0.6" text-anchor="middle">2</text>
<text transform="translate(232.75 137) scale(0.62 1)" font-size="8" font-weight="bold" fill="#0f0" stroke="#0f0" stroke-width="0.6" text-anchor="middle">3</text>
<text transform="translate(269 137) scale(0.62 1)" font-size="8" font-weight="bold" fill="#0f0" stroke="#0f0" stroke-width="0.6" text-anchor="middle">4</text>
<text transform="translate(288.25 137) scale(0.62 1)" font-size="8" font-weight="bold" fill="#0f0" stroke="#0f0" stroke-width="0.6" text-anchor="middle">5</text>
<text transform="translate(305.5 137) scale(0.62 1)" font-size="8" font-weight="bold" fill="#0f0" stroke="#0f0" stroke-width="0.6" text-anchor="middle">6</text>
<text transform="translate(326.5 137) scale(0.62 1)" font-size="8" font-weight="bold" fill="#0f0" stroke="#0f0" stroke-width="0.6" text-anchor="middle">7</text>
<text transform="translate(343.5 137) scale(0.62 1)" font-size="8" font-weight="bold" fill="#0f0" stroke="#0f0" stroke-width="0.6" text-anchor="middle">8</text>
<text transform="translate(356.88 137) scale(0.62 1)" font-size="8" font-weight="bold" fill="#0f0" stroke="#0f0" stroke-width="0.6" text-anchor="middle">9</text>
<text transform="translate(372.75 137) scale(0.62 1)" font-size="8" font-weight="bold" fill="#0f0" stroke="#0f0" stroke-width="0.6" text-anchor="middle">10</text>
<text transform="translate(397.5 137) scale(0.62 1)" font-size="8" font-weight="bold" fill="#0f0" stroke="#0f0" stroke-width="0.6" text-anchor="middle">11</text>
<text transform="translate(459 137) scale(0.62 1)" font-size="8" font-weight="bold" fill="#0f0" stroke="#0f0" stroke-width="0.6" text-anchor="middle">12</text>
<text transform="translate(515.25 137) scale(0.62 1)" font-size="8" font-weight="bold" fill="#0f0" stroke="#0f0" stroke-width="0.6" text-anchor="middle">13</text>
<text transform="translate(616.45 137) scale(0.62 1)" font-size="8" font-weight="bold" fill="#0f0" stroke="#0f0" stroke-width="0.6" text-anchor="middle">14</text>
<text transform="translate(673 137) scale(0.62 1)" font-size="8" font-weight="bold" fill="#0f0" stroke="#0f0" stroke-width="0.6" text-anchor="middle">15</text>
<text transform="translate(729.5 137) scale(0.62 1)" font-size="8" font-weight="bold" fill="#0f0" stroke="#0f0" stroke-width="0.6" text-anchor="middle">16</text>
<text transform="translate(766.38 137) scale(0.62 1)" font-size="8" font-weight="bold" fill="#0f0" stroke="#0f0" stroke-width="0.6" text-anchor="middle">17</text>
<text transform="translate(924.88 137) scale(0.62 1)" font-size="8" font-weight="bold" fill="#0f0" stroke="#0f0" stroke-width="0.6" text-anchor="middle">18</text>
<text transform="translate(971.12 137) scale(0.62 1)" font-size="8" font-weight="bold" fill="#0f0" stroke="#0f0" stroke-width="0.6" text-anchor="middle">19</text>
<text transform="translate(1008 137) scale(0.62 1)" font-size="8" font-weight="bold" fill="#0f0" stroke="#0f0" stroke-width="0.6" text-anchor="middle">20</text>
<text transform="translate(1037.25 137) scale(0.62 1)" font-size="8" font-weight="bold" fill="#0f0" stroke="#0f0" stroke-width="0.6" text-anchor="middle">21</text>
<text transform="translate(1058.88 137) scale(0.62 1)" font-size="8" font-weight="bold" fill="#0f0" stroke="#0f0" stroke-width="0.6" text-anchor="middle">22</text>
<text transform="translate(1100.25 137) scale(0.62 1)" font-size="8" font-weight="bold" fill="#0f0" stroke="#0f0" stroke-width="0.6" text-anchor="middle">23</text>
<text transform="translate(202.95 451.3) scale(0.62 1)" font-size="8" font-weight="bold" fill="#0f0" stroke="#0f0" stroke-width="0.6" text-anchor="middle">32</text>
<text transform="translate(227 451.3) scale(0.62 1)" font-size="8" font-weight="bold" fill="#0f0" stroke="#0f0" stroke-width="0.6" text-anchor="middle">31</text>
<text transform="translate(280.45 451.3) scale(0.62 1)" font-size="8" font-weight="bold" fill="#0f0" stroke="#0f0" stroke-width="0.6" text-anchor="middle">30</text>
<text transform="translate(314.65 451.3) scale(0.62 1)" font-size="8" font-weight="bold" fill="#0f0" stroke="#0f0" stroke-width="0.6" text-anchor="middle">29</text>
<text transform="translate(336.5 451.3) scale(0.62 1)" font-size="8" font-weight="bold" fill="#0f0" stroke="#0f0" stroke-width="0.6" text-anchor="middle">28</text>
<text transform="translate(354 451.3) scale(0.62 1)" font-size="8" font-weight="bold" fill="#0f0" stroke="#0f0" stroke-width="0.6" text-anchor="middle">27</text>
<text transform="translate(385.5 451.3) scale(0.62 1)" font-size="8" font-weight="bold" fill="#0f0" stroke="#0f0" stroke-width="0.6" text-anchor="middle">26</text>
<text transform="translate(810 459.8) scale(0.62 1)" font-size="8" font-weight="bold" fill="#0f0" stroke="#0f0" stroke-width="0.6" text-anchor="middle">25</text>
<text transform="translate(1059.5 454.6) scale(0.62 1)" font-size="8" font-weight="bold" fill="#0f0" stroke="#0f0" stroke-width="0.6" text-anchor="middle">24</text>
<text transform="translate(562.62 502) scale(0.62 1)" font-size="8" font-weight="bold" fill="#0f0" stroke="#0f0" stroke-width="0.6" text-anchor="middle">33</text>
<text transform="translate(631.38 502) scale(0.62 1)" font-size="8" font-weight="bold" fill="#0f0" stroke="#0f0" stroke-width="0.6" text-anchor="middle">34</text>
<rect x="133" y="362" width="4" height="6" fill="#0f0"/>
<rect x="197" y="362" width="4" height="6" fill="#0f0"/>
<text transform="translate(90.6 333) rotate(-90) scale(0.88 1)" font-size="5.5" font-weight="bold" fill="#0f0" stroke="#0f0" stroke-width="0.6" text-anchor="start">Ft±0.5</text>
<text transform="translate(457 264) rotate(-90) scale(1.0 1)" font-size="5.5" font-weight="bold" fill="#0f0" stroke="#0f0" stroke-width="0.6" text-anchor="start">Ø32×6</text>
<rect x="625" y="406" width="7" height="4" fill="#0f0"/>
<rect x="596" y="471" width="6" height="4" fill="#0f0"/>
<rect x="276.5" y="341.2" width="3" height="2.5" fill="#0ff"/>
<text transform="translate(271 349.5) scale(0.7 1)" font-size="6.5" font-weight="bold" fill="#0f0" stroke="#0f0" stroke-width="0.6" text-anchor="middle">A</text>
<text transform="translate(271 249) scale(0.7 1)" font-size="6.5" font-weight="bold" fill="#0f0" stroke="#0f0" stroke-width="0.6" text-anchor="middle">A</text>
<rect x="266.5" y="281.5" width="3.5" height="3.5" fill="#0f0"/>
<rect x="266" y="286" width="4.5" height="4" fill="#0f0"/>
<rect x="292" y="283.5" width="3" height="8.5" fill="#0f0"/>
<rect x="326.5" y="283.5" width="3" height="8.5" fill="#0f0"/>
<rect x="259" y="308" width="4" height="7" fill="#0f0"/>
<rect x="766" y="260" width="3" height="3.5" fill="#0ff"/>
<rect x="766" y="311" width="3" height="3.5" fill="#0ff"/>
<text transform="translate(779.8 296) rotate(-90) scale(0.72 1)" font-size="5.5" font-weight="bold" fill="#0f0" stroke="#0f0" stroke-width="0.6" text-anchor="start">Ø50H7/h6</text>
<text transform="translate(773.5 258) scale(0.7 1)" font-size="6.5" font-weight="bold" fill="#0f0" stroke="#0f0" stroke-width="0.6" text-anchor="middle">C</text>
<text transform="translate(773.5 320) scale(0.7 1)" font-size="6.5" font-weight="bold" fill="#0f0" stroke="#0f0" stroke-width="0.6" text-anchor="middle">C</text>
<text transform="translate(735 219) scale(0.7 1)" font-size="6.5" font-weight="bold" fill="#0f0" stroke="#0f0" stroke-width="0.6" text-anchor="middle">C</text>
<text transform="translate(735 346) scale(0.7 1)" font-size="6.5" font-weight="bold" fill="#0f0" stroke="#0f0" stroke-width="0.6" text-anchor="middle">C</text>
<text transform="translate(671.5 246.5) scale(0.7 1)" font-size="6.5" font-weight="bold" fill="#0f0" stroke="#0f0" stroke-width="0.6" text-anchor="middle">B</text>
<text transform="translate(671.5 330.5) scale(0.7 1)" font-size="6.5" font-weight="bold" fill="#0f0" stroke="#0f0" stroke-width="0.6" text-anchor="middle">B</text>
<rect x="983" y="285" width="4.6" height="5" fill="#0f0"/>
<rect x="1020.5" y="281" width="6.5" height="3.5" fill="#0f0"/>
<rect x="1021.5" y="285.5" width="4" height="7.5" fill="#0f0"/>
<text transform="translate(1043.8 296) rotate(-90) scale(0.82 1)" font-size="6.5" font-weight="bold" fill="#0f0" stroke="#0f0" stroke-width="0.6" text-anchor="start">Ø47H7</text>
<rect x="1076" y="272.4" width="3.6" height="3.6" fill="#0f0"/>
<text transform="translate(163 697.4) scale(0.6 1)" font-size="10.5" font-weight="bold" fill="#0f0" stroke="#0f0" stroke-width="0.6" text-anchor="middle">A-A</text>
<text transform="translate(339.7 664.1) scale(0.58 1)" font-size="11" font-weight="bold" fill="#0f0" stroke="#0f0" stroke-width="0.6" text-anchor="middle">B-B</text>
<rect x="561" y="582.5" width="4" height="4" fill="#0f0"/>
<text transform="translate(575.6 707.9) scale(0.56 1)" font-size="11" font-weight="bold" fill="#0f0" stroke="#0f0" stroke-width="0.6" text-anchor="middle">C-C</text>
<text x="996.5" y="508" font-size="8" font-weight="bold" fill="#0f0" stroke="#0f0" stroke-width="1.0" textLength="5" lengthAdjust="spacingAndGlyphs" text-anchor="start">34</text>
<text x="1005.5" y="508" font-size="8" font-weight="bold" fill="#0f0" stroke="#0f0" stroke-width="1.0" textLength="23.5" lengthAdjust="spacingAndGlyphs" text-anchor="start">CL6132-2-34</text>
<path d="M1042.5 502.3h3.6v6h-3.6zM1046.6 502.3h3.6v6h-3.6zM1050.7 502.3h3.6v6h-3.6zM1054.8 502.3h2.1v6h-2.1z" fill="#0f0"/>
<text x="1078" y="508" font-size="8" font-weight="bold" fill="#0f0" stroke="#0f0" stroke-width="1.0" textLength="2.2" lengthAdjust="spacingAndGlyphs" text-anchor="start">1</text>
<text x="1143.9" y="508" font-size="8" font-weight="bold" fill="#0f0" stroke="#0f0" stroke-width="1.0" textLength="26.4" lengthAdjust="spacingAndGlyphs" text-anchor="start">GB/T77-2000</text>
<text x="996.5" y="515.89" font-size="8" font-weight="bold" fill="#0f0" stroke="#0f0" stroke-width="1.0" textLength="5" lengthAdjust="spacingAndGlyphs" text-anchor="start">33</text>
<text x="1005.5" y="515.89" font-size="8" font-weight="bold" fill="#0f0" stroke="#0f0" stroke-width="1.0" textLength="23.5" lengthAdjust="spacingAndGlyphs" text-anchor="start">CL6132-2-33</text>
<path d="M1042.5 510.19h3.6v6h-3.6zM1046.6 510.19h3.6v6h-3.6zM1050.7 510.19h3.6v6h-3.6zM1054.8 510.19h3.6v6h-3.6zM1058.9 510.19h3.6v6h-3.6zM1063 510.19h3.6v6h-3.6zM1067.1 510.19h3.6v6h-3.6zM1071.2 510.19h2.3v6h-2.3z" fill="#0f0"/>
<text x="1078" y="515.89" font-size="8" font-weight="bold" fill="#0f0" stroke="#0f0" stroke-width="1.0" textLength="2.2" lengthAdjust="spacingAndGlyphs" text-anchor="start">4</text>
<text x="1145.5" y="515.89" font-size="8" font-weight="bold" fill="#0f0" stroke="#0f0" stroke-width="1.0" textLength="23.2" lengthAdjust="spacingAndGlyphs" text-anchor="start">GB/T93-1987</text>
<text x="996.5" y="523.78" font-size="8" font-weight="bold" fill="#0f0" stroke="#0f0" stroke-width="1.0" textLength="5" lengthAdjust="spacingAndGlyphs" text-anchor="start">32</text>
<text x="1005.5" y="523.78" font-size="8" font-weight="bold" fill="#0f0" stroke="#0f0" stroke-width="1.0" textLength="23.5" lengthAdjust="spacingAndGlyphs" text-anchor="start">CL6132-2-32</text>
<path d="M1042.5 518.08h3.6v6h-3.6zM1046.6 518.08h3.6v6h-3.6zM1050.7 518.08h3.6v6h-3.6zM1054.8 518.08h3.6v6h-3.6zM1058.9 518.08h2.6v6h-2.6z" fill="#0f0"/>
<text x="1078" y="523.78" font-size="8" font-weight="bold" fill="#0f0" stroke="#0f0" stroke-width="1.0" textLength="2.2" lengthAdjust="spacingAndGlyphs" text-anchor="start">4</text>
<text x="1143" y="523.78" font-size="8" font-weight="bold" fill="#0f0" stroke="#0f0" stroke-width="1.0" textLength="28" lengthAdjust="spacingAndGlyphs" text-anchor="start">GB/T70.1-2000</text>
<text x="996.5" y="531.66" font-size="8" font-weight="bold" fill="#0f0" stroke="#0f0" stroke-width="1.0" textLength="5" lengthAdjust="spacingAndGlyphs" text-anchor="start">31</text>
<text x="1005.5" y="531.66" font-size="8" font-weight="bold" fill="#0f0" stroke="#0f0" stroke-width="1.0" textLength="23.5" lengthAdjust="spacingAndGlyphs" text-anchor="start">CL6132-2-31</text>
<path d="M1042.5 525.96h3.6v6h-3.6zM1046.6 525.96h3.6v6h-3.6z" fill="#0f0"/>
<text x="1078" y="531.66" font-size="8" font-weight="bold" fill="#0f0" stroke="#0f0" stroke-width="1.0" textLength="2.2" lengthAdjust="spacingAndGlyphs" text-anchor="start">4</text>
<text x="1145.5" y="531.66" font-size="8" font-weight="bold" fill="#0f0" stroke="#0f0" stroke-width="1.0" textLength="23.2" lengthAdjust="spacingAndGlyphs" text-anchor="start">GB/T93-1987</text>
<text x="996.5" y="539.55" font-size="8" font-weight="bold" fill="#0f0" stroke="#0f0" stroke-width="1.0" textLength="5" lengthAdjust="spacingAndGlyphs" text-anchor="start">30</text>
<text x="1005.5" y="539.55" font-size="8" font-weight="bold" fill="#0f0" stroke="#0f0" stroke-width="1.0" textLength="23.5" lengthAdjust="spacingAndGlyphs" text-anchor="start">CL6132-2-30</text>
<path d="M1042.5 533.85h3.6v6h-3.6zM1046.6 533.85h3.6v6h-3.6zM1050.7 533.85h3.6v6h-3.6z" fill="#0f0"/>
<text x="1078" y="539.55" font-size="8" font-weight="bold" fill="#0f0" stroke="#0f0" stroke-width="1.0" textLength="2.2" lengthAdjust="spacingAndGlyphs" text-anchor="start">1</text>
<text x="1096.8" y="539.55" font-size="8" font-weight="bold" fill="#0f0" stroke="#0f0" stroke-width="1.0" textLength="11" lengthAdjust="spacingAndGlyphs" text-anchor="start">HT200</text>
<text x="996.5" y="547.44" font-size="8" font-weight="bold" fill="#0f0" stroke="#0f0" stroke-width="1.0" textLength="5" lengthAdjust="spacingAndGlyphs" text-anchor="start">29</text>
<text x="1005.5" y="547.44" font-size="8" font-weight="bold" fill="#0f0" stroke="#0f0" stroke-width="1.0" textLength="23.5" lengthAdjust="spacingAndGlyphs" text-anchor="start">CL6132-2-29</text>
<path d="M1042.5 541.74h3.6v6h-3.6zM1046.6 541.74h3.6v6h-3.6zM1050.7 541.74h3.6v6h-3.6zM1054.8 541.74h3.6v6h-3.6zM1058.9 541.74h2.6v6h-2.6z" fill="#0f0"/>
<text x="1078" y="547.44" font-size="8" font-weight="bold" fill="#0f0" stroke="#0f0" stroke-width="1.0" textLength="2.2" lengthAdjust="spacingAndGlyphs" text-anchor="start">1</text>
<text x="1143" y="547.44" font-size="8" font-weight="bold" fill="#0f0" stroke="#0f0" stroke-width="1.0" textLength="28" lengthAdjust="spacingAndGlyphs" text-anchor="start">GB/T70.1-2000</text>
<text x="996.5" y="555.33" font-size="8" font-weight="bold" fill="#0f0" stroke="#0f0" stroke-width="1.0" textLength="5" lengthAdjust="spacingAndGlyphs" text-anchor="start">28</text>
<text x="1005.5" y="555.33" font-size="8" font-weight="bold" fill="#0f0" stroke="#0f0" stroke-width="1.0" textLength="23.5" lengthAdjust="spacingAndGlyphs" text-anchor="start">CL6132-2-28</text>
<path d="M1042.5 549.63h3.6v6h-3.6zM1046.6 549.63h3.6v6h-3.6z" fill="#0f0"/>
<text x="1078" y="555.33" font-size="8" font-weight="bold" fill="#0f0" stroke="#0f0" stroke-width="1.0" textLength="2.2" lengthAdjust="spacingAndGlyphs" text-anchor="start">1</text>
<text x="1100" y="555.33" font-size="8" font-weight="bold" fill="#0f0" stroke="#0f0" stroke-width="1.0" textLength="4" lengthAdjust="spacingAndGlyphs" text-anchor="start">45</text>
<text x="996.5" y="563.22" font-size="8" font-weight="bold" fill="#0f0" stroke="#0f0" stroke-width="1.0" textLength="5" lengthAdjust="spacingAndGlyphs" text-anchor="start">27</text>
<text x="1005.5" y="563.22" font-size="8" font-weight="bold" fill="#0f0" stroke="#0f0" stroke-width="1.0" textLength="23.5" lengthAdjust="spacingAndGlyphs" text-anchor="start">CL6132-2-27</text>
<path d="M1042.5 557.52h3.6v6h-3.6zM1046.6 557.52h3.6v6h-3.6zM1050.7 557.52h3.6v6h-3.6zM1054.8 557.52h3.6v6h-3.6zM1058.9 557.52h3.6v6h-3.6zM1063 557.52h3.6v6h-3.6z" fill="#0f0"/>
<text x="1078" y="563.22" font-size="8" font-weight="bold" fill="#0f0" stroke="#0f0" stroke-width="1.0" textLength="2.2" lengthAdjust="spacingAndGlyphs" text-anchor="start">1</text>
<text x="1143.9" y="563.22" font-size="8" font-weight="bold" fill="#0f0" stroke="#0f0" stroke-width="1.0" textLength="26.4" lengthAdjust="spacingAndGlyphs" text-anchor="start">GB/T77-2000</text>
<text x="996.5" y="571.1" font-size="8" font-weight="bold" fill="#0f0" stroke="#0f0" stroke-width="1.0" textLength="5" lengthAdjust="spacingAndGlyphs" text-anchor="start">26</text>
<text x="1005.5" y="571.1" font-size="8" font-weight="bold" fill="#0f0" stroke="#0f0" stroke-width="1.0" textLength="23.5" lengthAdjust="spacingAndGlyphs" text-anchor="start">CL6132-2-26</text>
<path d="M1042.5 565.4h3.6v6h-3.6zM1046.6 565.4h3.6v6h-3.6z" fill="#0f0"/>
<text x="1078" y="571.1" font-size="8" font-weight="bold" fill="#0f0" stroke="#0f0" stroke-width="1.0" textLength="2.2" lengthAdjust="spacingAndGlyphs" text-anchor="start">1</text>
<text x="1100" y="571.1" font-size="8" font-weight="bold" fill="#0f0" stroke="#0f0" stroke-width="1.0" textLength="4" lengthAdjust="spacingAndGlyphs" text-anchor="start">45</text>
<text x="996.5" y="578.99" font-size="8" font-weight="bold" fill="#0f0" stroke="#0f0" stroke-width="1.0" textLength="5" lengthAdjust="spacingAndGlyphs" text-anchor="start">25</text>
<text x="1005.5" y="578.99" font-size="8" font-weight="bold" fill="#0f0" stroke="#0f0" stroke-width="1.0" textLength="23.5" lengthAdjust="spacingAndGlyphs" text-anchor="start">CL6132-2-25</text>
<path d="M1042.5 573.29h3.6v6h-3.6zM1046.6 573.29h3.6v6h-3.6zM1050.7 573.29h3.6v6h-3.6zM1054.8 573.29h3.6v6h-3.6z" fill="#0f0"/>
<text x="1078" y="578.99" font-size="8" font-weight="bold" fill="#0f0" stroke="#0f0" stroke-width="1.0" textLength="2.2" lengthAdjust="spacingAndGlyphs" text-anchor="start">1</text>
<text x="996.5" y="586.88" font-size="8" font-weight="bold" fill="#0f0" stroke="#0f0" stroke-width="1.0" textLength="5" lengthAdjust="spacingAndGlyphs" text-anchor="start">24</text>
<text x="1005.5" y="586.88" font-size="8" font-weight="bold" fill="#0f0" stroke="#0f0" stroke-width="1.0" textLength="23.5" lengthAdjust="spacingAndGlyphs" text-anchor="start">CL6132-2-24</text>
<path d="M1042.5 581.18h3.6v6h-3.6zM1046.6 581.18h3.6v6h-3.6zM1050.7 581.18h3.6v6h-3.6zM1054.8 581.18h3.6v6h-3.6zM1058.9 581.18h3.6v6h-3.6zM1063 581.18h3.6v6h-3.6zM1067.1 581.18h3.6v6h-3.6zM1071.2 581.18h3.6v6h-3.6z" fill="#0f0"/>
<text x="1078" y="586.88" font-size="8" font-weight="bold" fill="#0f0" stroke="#0f0" stroke-width="1.0" textLength="2.2" lengthAdjust="spacingAndGlyphs" text-anchor="start">1</text>
<text x="1145.5" y="586.88" font-size="8" font-weight="bold" fill="#0f0" stroke="#0f0" stroke-width="1.0" textLength="23.2" lengthAdjust="spacingAndGlyphs" text-anchor="start">GB/T93-1987</text>
<text x="996.5" y="594.77" font-size="8" font-weight="bold" fill="#0f0" stroke="#0f0" stroke-width="1.0" textLength="5" lengthAdjust="spacingAndGlyphs" text-anchor="start">23</text>
<text x="1005.5" y="594.77" font-size="8" font-weight="bold" fill="#0f0" stroke="#0f0" stroke-width="1.0" textLength="23.5" lengthAdjust="spacingAndGlyphs" text-anchor="start">CL6132-2-23</text>
<path d="M1042.5 589.07h3.6v6h-3.6zM1046.6 589.07h3.6v6h-3.6zM1050.7 589.07h3.6v6h-3.6zM1054.8 589.07h3.6v6h-3.6zM1058.9 589.07h2.6v6h-2.6z" fill="#0f0"/>
<text x="1078" y="594.77" font-size="8" font-weight="bold" fill="#0f0" stroke="#0f0" stroke-width="1.0" textLength="2.2" lengthAdjust="spacingAndGlyphs" text-anchor="start">4</text>
<text x="1143" y="594.77" font-size="8" font-weight="bold" fill="#0f0" stroke="#0f0" stroke-width="1.0" textLength="28" lengthAdjust="spacingAndGlyphs" text-anchor="start">GB/T70.1-2000</text>
<text x="996.5" y="602.66" font-size="8" font-weight="bold" fill="#0f0" stroke="#0f0" stroke-width="1.0" textLength="5" lengthAdjust="spacingAndGlyphs" text-anchor="start">22</text>
<text x="1005.5" y="602.66" font-size="8" font-weight="bold" fill="#0f0" stroke="#0f0" stroke-width="1.0" textLength="23.5" lengthAdjust="spacingAndGlyphs" text-anchor="start">CL6132-2-22</text>
<path d="M1042.5 596.96h3.6v6h-3.6zM1046.6 596.96h3.6v6h-3.6zM1050.7 596.96h3.6v6h-3.6zM1054.8 596.96h3.6v6h-3.6zM1058.9 596.96h3.6v6h-3.6zM1063 596.96h3.6v6h-3.6z" fill="#0f0"/>
<text x="1078" y="602.66" font-size="8" font-weight="bold" fill="#0f0" stroke="#0f0" stroke-width="1.0" textLength="2.2" lengthAdjust="spacingAndGlyphs" text-anchor="start">1</text>
<text x="1143.9" y="602.66" font-size="8" font-weight="bold" fill="#0f0" stroke="#0f0" stroke-width="1.0" textLength="26.4" lengthAdjust="spacingAndGlyphs" text-anchor="start">GB/T77-2000</text>
<text x="996.5" y="610.54" font-size="8" font-weight="bold" fill="#0f0" stroke="#0f0" stroke-width="1.0" textLength="5" lengthAdjust="spacingAndGlyphs" text-anchor="start">21</text>
<text x="1005.5" y="610.54" font-size="8" font-weight="bold" fill="#0f0" stroke="#0f0" stroke-width="1.0" textLength="23.5" lengthAdjust="spacingAndGlyphs" text-anchor="start">CL6132-2-21</text>
<path d="M1042.5 604.84h3.6v6h-3.6zM1046.6 604.84h3.6v6h-3.6zM1050.7 604.84h3.6v6h-3.6z" fill="#0f0"/>
<text x="1078" y="610.54" font-size="8" font-weight="bold" fill="#0f0" stroke="#0f0" stroke-width="1.0" textLength="2.2" lengthAdjust="spacingAndGlyphs" text-anchor="start">1</text>
<text x="1096.8" y="610.54" font-size="8" font-weight="bold" fill="#0f0" stroke="#0f0" stroke-width="1.0" textLength="11" lengthAdjust="spacingAndGlyphs" text-anchor="start">GCr15</text>
<path d="M1152 604.84h3.6v6h-3.6zM1156.1 604.84h3.6v6h-3.6z" fill="#0f0"/>
<text x="996.5" y="618.43" font-size="8" font-weight="bold" fill="#0f0" stroke="#0f0" stroke-width="1.0" textLength="5" lengthAdjust="spacingAndGlyphs" text-anchor="start">20</text>
<text x="1005.5" y="618.43" font-size="8" font-weight="bold" fill="#0f0" stroke="#0f0" stroke-width="1.0" textLength="23.5" lengthAdjust="spacingAndGlyphs" text-anchor="start">CL6132-2-20</text>
<path d="M1042.5 612.73h3.6v6h-3.6zM1046.6 612.73h3.6v6h-3.6zM1050.7 612.73h3.6v6h-3.6zM1054.8 612.73h3.6v6h-3.6z" fill="#0f0"/>
<text x="1078" y="618.43" font-size="8" font-weight="bold" fill="#0f0" stroke="#0f0" stroke-width="1.0" textLength="2.2" lengthAdjust="spacingAndGlyphs" text-anchor="start">1</text>
<text x="1096.8" y="618.43" font-size="8" font-weight="bold" fill="#0f0" stroke="#0f0" stroke-width="1.0" textLength="11" lengthAdjust="spacingAndGlyphs" text-anchor="start">HT200</text>
<text x="996.5" y="626.32" font-size="8" font-weight="bold" fill="#0f0" stroke="#0f0" stroke-width="1.0" textLength="5" lengthAdjust="spacingAndGlyphs" text-anchor="start">19</text>
<text x="1005.5" y="626.32" font-size="8" font-weight="bold" fill="#0f0" stroke="#0f0" stroke-width="1.0" textLength="23.5" lengthAdjust="spacingAndGlyphs" text-anchor="start">CL6132-2-19</text>
<path d="M1042.5 620.62h3.6v6h-3.6zM1046.6 620.62h3.6v6h-3.6zM1050.7 620.62h3.6v6h-3.6zM1054.8 620.62h3.6v6h-3.6zM1058.9 620.62h2.6v6h-2.6z" fill="#0f0"/>
<text x="1078" y="626.32" font-size="8" font-weight="bold" fill="#0f0" stroke="#0f0" stroke-width="1.0" textLength="2.2" lengthAdjust="spacingAndGlyphs" text-anchor="start">6</text>
<text x="1143" y="626.32" font-size="8" font-weight="bold" fill="#0f0" stroke="#0f0" stroke-width="1.0" textLength="28" lengthAdjust="spacingAndGlyphs" text-anchor="start">GB/T70.1-2000</text>
<text x="996.5" y="634.21" font-size="8" font-weight="bold" fill="#0f0" stroke="#0f0" stroke-width="1.0" textLength="5" lengthAdjust="spacingAndGlyphs" text-anchor="start">18</text>
<text x="1005.5" y="634.21" font-size="8" font-weight="bold" fill="#0f0" stroke="#0f0" stroke-width="1.0" textLength="23.5" lengthAdjust="spacingAndGlyphs" text-anchor="start">CL6132-2-18</text>
<path d="M1042.5 628.51h3.6v6h-3.6zM1046.6 628.51h3.6v6h-3.6zM1050.7 628.51h3.6v6h-3.6zM1054.8 628.51h3.6v6h-3.6z" fill="#0f0"/>
<text x="1078" y="634.21" font-size="8" font-weight="bold" fill="#0f0" stroke="#0f0" stroke-width="1.0" textLength="2.2" lengthAdjust="spacingAndGlyphs" text-anchor="start">1</text>
<text x="1096.8" y="634.21" font-size="8" font-weight="bold" fill="#0f0" stroke="#0f0" stroke-width="1.0" textLength="11" lengthAdjust="spacingAndGlyphs" text-anchor="start">HT200</text>
<text x="996.5" y="642.1" font-size="8" font-weight="bold" fill="#0f0" stroke="#0f0" stroke-width="1.0" textLength="5" lengthAdjust="spacingAndGlyphs" text-anchor="start">17</text>
<text x="1005.5" y="642.1" font-size="8" font-weight="bold" fill="#0f0" stroke="#0f0" stroke-width="1.0" textLength="23.5" lengthAdjust="spacingAndGlyphs" text-anchor="start">CL6132-2-17</text>
<path d="M1042.5 636.4h3.6v6h-3.6zM1046.6 636.4h3.6v6h-3.6zM1050.7 636.4h3.6v6h-3.6z" fill="#0f0"/>
<text x="1078" y="642.1" font-size="8" font-weight="bold" fill="#0f0" stroke="#0f0" stroke-width="1.0" textLength="2.2" lengthAdjust="spacingAndGlyphs" text-anchor="start">1</text>
<text x="1100" y="642.1" font-size="8" font-weight="bold" fill="#0f0" stroke="#0f0" stroke-width="1.0" textLength="4" lengthAdjust="spacingAndGlyphs" text-anchor="start">45</text>
<text x="996.5" y="649.98" font-size="8" font-weight="bold" fill="#0f0" stroke="#0f0" stroke-width="1.0" textLength="5" lengthAdjust="spacingAndGlyphs" text-anchor="start">16</text>
<text x="1005.5" y="649.98" font-size="8" font-weight="bold" fill="#0f0" stroke="#0f0" stroke-width="1.0" textLength="23.5" lengthAdjust="spacingAndGlyphs" text-anchor="start">CL6132-2-16</text>
<path d="M1042.5 644.28h3.6v6h-3.6zM1046.6 644.28h3.6v6h-3.6zM1050.7 644.28h3.6v6h-3.6zM1054.8 644.28h3.6v6h-3.6zM1058.9 644.28h3.6v6h-3.6zM1063 644.28h3.6v6h-3.6zM1067.1 644.28h3.6v6h-3.6zM1071.2 644.28h2.3v6h-2.3z" fill="#0f0"/>
<text x="1078" y="649.98" font-size="8" font-weight="bold" fill="#0f0" stroke="#0f0" stroke-width="1.0" textLength="2.2" lengthAdjust="spacingAndGlyphs" text-anchor="start">6</text>
<text x="1145.5" y="649.98" font-size="8" font-weight="bold" fill="#0f0" stroke="#0f0" stroke-width="1.0" textLength="23.2" lengthAdjust="spacingAndGlyphs" text-anchor="start">GB/T93-1987</text>
<text x="996.5" y="657.87" font-size="8" font-weight="bold" fill="#0f0" stroke="#0f0" stroke-width="1.0" textLength="5" lengthAdjust="spacingAndGlyphs" text-anchor="start">15</text>
<text x="1005.5" y="657.87" font-size="8" font-weight="bold" fill="#0f0" stroke="#0f0" stroke-width="1.0" textLength="23.5" lengthAdjust="spacingAndGlyphs" text-anchor="start">CL6132-2-15</text>
<path d="M1042.5 652.17h3.6v6h-3.6zM1046.6 652.17h3.6v6h-3.6zM1050.7 652.17h3.6v6h-3.6zM1054.8 652.17h3.6v6h-3.6z" fill="#0f0"/>
<text x="1078" y="657.87" font-size="8" font-weight="bold" fill="#0f0" stroke="#0f0" stroke-width="1.0" textLength="2.2" lengthAdjust="spacingAndGlyphs" text-anchor="start">1</text>
<text x="1143.9" y="657.87" font-size="8" font-weight="bold" fill="#0f0" stroke="#0f0" stroke-width="1.0" textLength="26.4" lengthAdjust="spacingAndGlyphs" text-anchor="start">GB/T77-2000</text>
<text x="996.5" y="665.76" font-size="8" font-weight="bold" fill="#0f0" stroke="#0f0" stroke-width="1.0" textLength="5" lengthAdjust="spacingAndGlyphs" text-anchor="start">14</text>
<text x="1005.5" y="665.76" font-size="8" font-weight="bold" fill="#0f0" stroke="#0f0" stroke-width="1.0" textLength="23.5" lengthAdjust="spacingAndGlyphs" text-anchor="start">CL6132-2-14</text>
<path d="M1042.5 660.06h3.6v6h-3.6zM1046.6 660.06h3.6v6h-3.6zM1050.7 660.06h3.6v6h-3.6zM1054.8 660.06h3.6v6h-3.6zM1058.9 660.06h3.6v6h-3.6zM1063 660.06h3.6v6h-3.6zM1067.1 660.06h3.6v6h-3.6zM1071.2 660.06h3.6v6h-3.6zM1075.3 660.06h3.6v6h-3.6z" fill="#0f0"/>
<text x="1143.9" y="665.76" font-size="8" font-weight="bold" fill="#0f0" stroke="#0f0" stroke-width="1.0" textLength="26.4" lengthAdjust="spacingAndGlyphs" text-anchor="start">GB/T77-2000</text>
<text x="996.5" y="673.65" font-size="8" font-weight="bold" fill="#0f0" stroke="#0f0" stroke-width="1.0" textLength="5" lengthAdjust="spacingAndGlyphs" text-anchor="start">13</text>
<text x="1005.5" y="673.65" font-size="8" font-weight="bold" fill="#0f0" stroke="#0f0" stroke-width="1.0" textLength="23.5" lengthAdjust="spacingAndGlyphs" text-anchor="start">CL6132-2-13</text>
<path d="M1042.5 667.95h3.6v6h-3.6zM1046.6 667.95h3.6v6h-3.6zM1050.7 667.95h3.6v6h-3.6zM1054.8 667.95h3.6v6h-3.6z" fill="#0f0"/>
<text x="1078" y="673.65" font-size="8" font-weight="bold" fill="#0f0" stroke="#0f0" stroke-width="1.0" textLength="2.2" lengthAdjust="spacingAndGlyphs" text-anchor="start">1</text>
<text x="1100" y="673.65" font-size="8" font-weight="bold" fill="#0f0" stroke="#0f0" stroke-width="1.0" textLength="4" lengthAdjust="spacingAndGlyphs" text-anchor="start">45</text>
<text x="996.5" y="681.54" font-size="8" font-weight="bold" fill="#0f0" stroke="#0f0" stroke-width="1.0" textLength="5" lengthAdjust="spacingAndGlyphs" text-anchor="start">12</text>
<text x="1005.5" y="681.54" font-size="8" font-weight="bold" fill="#0f0" stroke="#0f0" stroke-width="1.0" textLength="23.5" lengthAdjust="spacingAndGlyphs" text-anchor="start">CL6132-2-12</text>
<path d="M1042.5 675.84h3.6v6h-3.6zM1046.6 675.84h3.6v6h-3.6zM1050.7 675.84h3.6v6h-3.6z" fill="#0f0"/>
<text x="1078" y="681.54" font-size="8" font-weight="bold" fill="#0f0" stroke="#0f0" stroke-width="1.0" textLength="2.2" lengthAdjust="spacingAndGlyphs" text-anchor="start">1</text>
<text x="1096.8" y="681.54" font-size="8" font-weight="bold" fill="#0f0" stroke="#0f0" stroke-width="1.0" textLength="11" lengthAdjust="spacingAndGlyphs" text-anchor="start">HT200</text>
<text x="996.5" y="689.42" font-size="8" font-weight="bold" fill="#0f0" stroke="#0f0" stroke-width="1.0" textLength="5" lengthAdjust="spacingAndGlyphs" text-anchor="start">11</text>
<text x="1005.5" y="689.42" font-size="8" font-weight="bold" fill="#0f0" stroke="#0f0" stroke-width="1.0" textLength="23.5" lengthAdjust="spacingAndGlyphs" text-anchor="start">CL6132-2-11</text>
<path d="M1042.5 683.72h3.6v6h-3.6zM1046.6 683.72h3.6v6h-3.6z" fill="#0f0"/>
<text x="1078" y="689.42" font-size="8" font-weight="bold" fill="#0f0" stroke="#0f0" stroke-width="1.0" textLength="2.2" lengthAdjust="spacingAndGlyphs" text-anchor="start">1</text>
<text x="1100" y="689.42" font-size="8" font-weight="bold" fill="#0f0" stroke="#0f0" stroke-width="1.0" textLength="4" lengthAdjust="spacingAndGlyphs" text-anchor="start">45</text>
<text x="996.5" y="697.31" font-size="8" font-weight="bold" fill="#0f0" stroke="#0f0" stroke-width="1.0" textLength="5" lengthAdjust="spacingAndGlyphs" text-anchor="start">10</text>
<text x="1005.5" y="697.31" font-size="8" font-weight="bold" fill="#0f0" stroke="#0f0" stroke-width="1.0" textLength="23.5" lengthAdjust="spacingAndGlyphs" text-anchor="start">CL6132-2-10</text>
<path d="M1042.5 691.61h3.6v6h-3.6zM1046.6 691.61h3.6v6h-3.6zM1050.7 691.61h3.6v6h-3.6z" fill="#0f0"/>
<text x="1078" y="697.31" font-size="8" font-weight="bold" fill="#0f0" stroke="#0f0" stroke-width="1.0" textLength="2.2" lengthAdjust="spacingAndGlyphs" text-anchor="start">1</text>
<text x="1096.8" y="697.31" font-size="8" font-weight="bold" fill="#0f0" stroke="#0f0" stroke-width="1.0" textLength="11" lengthAdjust="spacingAndGlyphs" text-anchor="start">GCr15</text>
<path d="M1152 691.61h3.6v6h-3.6zM1156.1 691.61h3.6v6h-3.6z" fill="#0f0"/>
<text x="998" y="705.2" font-size="8" font-weight="bold" fill="#0f0" stroke="#0f0" stroke-width="1.0" textLength="2.8" lengthAdjust="spacingAndGlyphs" text-anchor="start">9</text>
<text x="1005.5" y="705.2" font-size="8" font-weight="bold" fill="#0f0" stroke="#0f0" stroke-width="1.0" textLength="21.5" lengthAdjust="spacingAndGlyphs" text-anchor="start">CL6132-2-9</text>
<path d="M1042.5 699.5h3.6v6h-3.6zM1046.6 699.5h3.6v6h-3.6zM1050.7 699.5h3.6v6h-3.6zM1054.8 699.5h3.6v6h-3.6zM1058.9 699.5h3.6v6h-3.6zM1063 699.5h3.6v6h-3.6z" fill="#0f0"/>
<text x="1078" y="705.2" font-size="8" font-weight="bold" fill="#0f0" stroke="#0f0" stroke-width="1.0" textLength="2.2" lengthAdjust="spacingAndGlyphs" text-anchor="start">2</text>
<text x="1143.9" y="705.2" font-size="8" font-weight="bold" fill="#0f0" stroke="#0f0" stroke-width="1.0" textLength="26.4" lengthAdjust="spacingAndGlyphs" text-anchor="start">GB/T77-2000</text>
<text x="998" y="713.09" font-size="8" font-weight="bold" fill="#0f0" stroke="#0f0" stroke-width="1.0" textLength="2.8" lengthAdjust="spacingAndGlyphs" text-anchor="start">8</text>
<text x="1005.5" y="713.09" font-size="8" font-weight="bold" fill="#0f0" stroke="#0f0" stroke-width="1.0" textLength="21.5" lengthAdjust="spacingAndGlyphs" text-anchor="start">CL6132-2-8</text>
<path d="M1042.5 707.39h3.6v6h-3.6zM1046.6 707.39h3.6v6h-3.6zM1050.7 707.39h3.6v6h-3.6zM1054.8 707.39h3.6v6h-3.6zM1058.9 707.39h3.6v6h-3.6zM1063 707.39h3.6v6h-3.6zM1067.1 707.39h3.6v6h-3.6zM1071.2 707.39h3.6v6h-3.6z" fill="#0f0"/>
<text x="1078" y="713.09" font-size="8" font-weight="bold" fill="#0f0" stroke="#0f0" stroke-width="1.0" textLength="2.2" lengthAdjust="spacingAndGlyphs" text-anchor="start">1</text>
<text x="1145.5" y="713.09" font-size="8" font-weight="bold" fill="#0f0" stroke="#0f0" stroke-width="1.0" textLength="23.2" lengthAdjust="spacingAndGlyphs" text-anchor="start">GB/T93-1987</text>
<text x="998" y="720.98" font-size="8" font-weight="bold" fill="#0f0" stroke="#0f0" stroke-width="1.0" textLength="2.8" lengthAdjust="spacingAndGlyphs" text-anchor="start">7</text>
<text x="1005.5" y="720.98" font-size="8" font-weight="bold" fill="#0f0" stroke="#0f0" stroke-width="1.0" textLength="21.5" lengthAdjust="spacingAndGlyphs" text-anchor="start">CL6132-2-7</text>
<path d="M1042.5 715.28h3.6v6h-3.6zM1046.6 715.28h3.6v6h-3.6z" fill="#0f0"/>
<text x="1078" y="720.98" font-size="8" font-weight="bold" fill="#0f0" stroke="#0f0" stroke-width="1.0" textLength="2.2" lengthAdjust="spacingAndGlyphs" text-anchor="start">1</text>
<text x="998" y="728.86" font-size="8" font-weight="bold" fill="#0f0" stroke="#0f0" stroke-width="1.0" textLength="2.8" lengthAdjust="spacingAndGlyphs" text-anchor="start">6</text>
<text x="1005.5" y="728.86" font-size="8" font-weight="bold" fill="#0f0" stroke="#0f0" stroke-width="1.0" textLength="21.5" lengthAdjust="spacingAndGlyphs" text-anchor="start">CL6132-2-6</text>
<path d="M1042.5 723.16h3.6v6h-3.6zM1046.6 723.16h3.6v6h-3.6zM1050.7 723.16h3.6v6h-3.6zM1054.8 723.16h3.6v6h-3.6z" fill="#0f0"/>
<text x="1078" y="728.86" font-size="8" font-weight="bold" fill="#0f0" stroke="#0f0" stroke-width="1.0" textLength="2.2" lengthAdjust="spacingAndGlyphs" text-anchor="start">1</text>
<text x="1100" y="728.86" font-size="8" font-weight="bold" fill="#0f0" stroke="#0f0" stroke-width="1.0" textLength="4" lengthAdjust="spacingAndGlyphs" text-anchor="start">45</text>
<text x="998" y="736.75" font-size="8" font-weight="bold" fill="#0f0" stroke="#0f0" stroke-width="1.0" textLength="2.8" lengthAdjust="spacingAndGlyphs" text-anchor="start">5</text>
<text x="1005.5" y="736.75" font-size="8" font-weight="bold" fill="#0f0" stroke="#0f0" stroke-width="1.0" textLength="21.5" lengthAdjust="spacingAndGlyphs" text-anchor="start">CL6132-2-5</text>
<path d="M1042.5 731.05h3.6v6h-3.6zM1046.6 731.05h3.6v6h-3.6zM1050.7 731.05h3.6v6h-3.6zM1054.8 731.05h3.6v6h-3.6z" fill="#0f0"/>
<text x="1078" y="736.75" font-size="8" font-weight="bold" fill="#0f0" stroke="#0f0" stroke-width="1.0" textLength="2.2" lengthAdjust="spacingAndGlyphs" text-anchor="start">1</text>
<text x="1096.8" y="736.75" font-size="8" font-weight="bold" fill="#0f0" stroke="#0f0" stroke-width="1.0" textLength="11" lengthAdjust="spacingAndGlyphs" text-anchor="start">HT200</text>
<text x="998" y="744.64" font-size="8" font-weight="bold" fill="#0f0" stroke="#0f0" stroke-width="1.0" textLength="2.8" lengthAdjust="spacingAndGlyphs" text-anchor="start">4</text>
<text x="1005.5" y="744.64" font-size="8" font-weight="bold" fill="#0f0" stroke="#0f0" stroke-width="1.0" textLength="21.5" lengthAdjust="spacingAndGlyphs" text-anchor="start">CL6132-2-4</text>
<path d="M1042.5 738.94h3.6v6h-3.6zM1046.6 738.94h3.6v6h-3.6zM1050.7 738.94h3.6v6h-3.6zM1054.8 738.94h3.6v6h-3.6zM1058.9 738.94h2.6v6h-2.6z" fill="#0f0"/>
<text x="1078" y="744.64" font-size="8" font-weight="bold" fill="#0f0" stroke="#0f0" stroke-width="1.0" textLength="2.2" lengthAdjust="spacingAndGlyphs" text-anchor="start">6</text>
<text x="1143" y="744.64" font-size="8" font-weight="bold" fill="#0f0" stroke="#0f0" stroke-width="1.0" textLength="28" lengthAdjust="spacingAndGlyphs" text-anchor="start">GB/T70.1-2000</text>
<text x="998" y="752.53" font-size="8" font-weight="bold" fill="#0f0" stroke="#0f0" stroke-width="1.0" textLength="2.8" lengthAdjust="spacingAndGlyphs" text-anchor="start">3</text>
<text x="1005.5" y="752.53" font-size="8" font-weight="bold" fill="#0f0" stroke="#0f0" stroke-width="1.0" textLength="21.5" lengthAdjust="spacingAndGlyphs" text-anchor="start">CL6132-2-3</text>
<path d="M1042.5 746.83h3.6v6h-3.6zM1046.6 746.83h3.6v6h-3.6zM1050.7 746.83h3.6v6h-3.6zM1054.8 746.83h3.6v6h-3.6zM1058.9 746.83h3.6v6h-3.6zM1063 746.83h3.1v6h-3.1z" fill="#0f0"/>
<text x="1078" y="752.53" font-size="8" font-weight="bold" fill="#0f0" stroke="#0f0" stroke-width="1.0" textLength="2.2" lengthAdjust="spacingAndGlyphs" text-anchor="start">2</text>
<text x="1145.5" y="752.53" font-size="8" font-weight="bold" fill="#0f0" stroke="#0f0" stroke-width="1.0" textLength="23.2" lengthAdjust="spacingAndGlyphs" text-anchor="start">GB/T93-1987</text>
<text x="998" y="760.42" font-size="8" font-weight="bold" fill="#0f0" stroke="#0f0" stroke-width="1.0" textLength="2.8" lengthAdjust="spacingAndGlyphs" text-anchor="start">2</text>
<text x="1005.5" y="760.42" font-size="8" font-weight="bold" fill="#0f0" stroke="#0f0" stroke-width="1.0" textLength="21.5" lengthAdjust="spacingAndGlyphs" text-anchor="start">CL6132-2-2</text>
<path d="M1042.5 754.72h3.6v6h-3.6zM1046.6 754.72h3.6v6h-3.6zM1050.7 754.72h3.6v6h-3.6z" fill="#0f0"/>
<text x="1078" y="760.42" font-size="8" font-weight="bold" fill="#0f0" stroke="#0f0" stroke-width="1.0" textLength="2.2" lengthAdjust="spacingAndGlyphs" text-anchor="start">1</text>
<text x="1096.8" y="760.42" font-size="8" font-weight="bold" fill="#0f0" stroke="#0f0" stroke-width="1.0" textLength="11" lengthAdjust="spacingAndGlyphs" text-anchor="start">HT200</text>
<text x="998" y="768.3" font-size="8" font-weight="bold" fill="#0f0" stroke="#0f0" stroke-width="1.0" textLength="2.8" lengthAdjust="spacingAndGlyphs" text-anchor="start">1</text>
<text x="1005.5" y="768.3" font-size="8" font-weight="bold" fill="#0f0" stroke="#0f0" stroke-width="1.0" textLength="21.5" lengthAdjust="spacingAndGlyphs" text-anchor="start">CL6132-2-1</text>
<path d="M1042.5 762.6h3.6v6h-3.6zM1046.6 762.6h3.6v6h-3.6zM1050.7 762.6h3.6v6h-3.6zM1054.8 762.6h3.6v6h-3.6zM1058.9 762.6h3.6v6h-3.6z" fill="#0f0"/>
<text x="1078" y="768.3" font-size="8" font-weight="bold" fill="#0f0" stroke="#0f0" stroke-width="1.0" textLength="2.2" lengthAdjust="spacingAndGlyphs" text-anchor="start">1</text>
<text x="1143.9" y="768.3" font-size="8" font-weight="bold" fill="#0f0" stroke="#0f0" stroke-width="1.0" textLength="30" lengthAdjust="spacingAndGlyphs" text-anchor="start">Y90S-4 1.1kW</text>
<path d="M994 773.09h3.6v6.2h-3.6zM998.1 773.09h3.6v6.2h-3.6zM1002.2 773.09h1.3v6.2h-1.3z" fill="#0f0"/>
<path d="M1011.5 773.09h3.6v6.2h-3.6z" fill="#0f0"/>
<path d="M1029 773.09h3.6v6.2h-3.6z" fill="#0f0"/>
<path d="M1047.5 773.09h3.6v6.2h-3.6z" fill="#0f0"/>
<path d="M1063.5 773.09h3.6v6.2h-3.6z" fill="#0f0"/>
<path d="M1074.5 773.09h3.6v6.2h-3.6zM1078.6 773.09h3.6v6.2h-3.6zM1082.7 773.09h1.3v6.2h-1.3z" fill="#0f0"/>
<path d="M1088.5 773.09h3.6v6.2h-3.6z" fill="#0f0"/>
<path d="M1108 773.09h3.6v6.2h-3.6z" fill="#0f0"/>
<path d="M1142 773.09h3.6v6.2h-3.6z" fill="#0f0"/>
<path d="M1160 773.09h3.6v6.2h-3.6z" fill="#0f0"/>
<path d="M1120.5 770.89h3.9v3.6h-3.9zM1124.9 770.89h3.9v3.6h-3.9z" fill="#0f0"/>
<path d="M1131.5 770.89h3.9v3.6h-3.9zM1135.9 770.89h3.9v3.6h-3.9z" fill="#0f0"/>
<path d="M1124 775.69h3.6v3.6h-3.6z" fill="#0f0"/>
<path d="M1135 775.69h3.6v3.6h-3.6z" fill="#0f0"/>
<text x="1121" y="806.8" font-size="8.5" font-weight="bold" fill="#0f0" stroke="#0f0" stroke-width="1.0" textLength="14.5" lengthAdjust="spacingAndGlyphs" text-anchor="start">CL6132</text>
<text x="1132" y="820" font-size="8.5" font-weight="bold" fill="#0f0" stroke="#0f0" stroke-width="1.0" textLength="20" lengthAdjust="spacingAndGlyphs" text-anchor="start">CL6132-2</text>
<path d="M994 802.4h3.9v3.6h-3.9zM998.4 802.4h3.9v3.6h-3.9zM1002.8 802.4h3.9v3.6h-3.9z" fill="#0f0"/>
<path d="M1010 802.4h3.9v3.6h-3.9zM1014.4 802.4h3.9v3.6h-3.9zM1018.8 802.4h3.9v3.6h-3.9zM1023.2 802.4h3.8v3.6h-3.8z" fill="#0f0"/>
<path d="M1030 802.4h3.6v3.6h-3.6z" fill="#0f0"/>
<path d="M1036 802.4h3.6v3.6h-3.6z" fill="#0f0"/>
<path d="M1045 802.4h3.9v3.6h-3.9zM1049.4 802.4h3.1v3.6h-3.1z" fill="#0f0"/>
<path d="M995.5 807.5h3.9v3.6h-3.9zM999.9 807.5h3.6v3.6h-3.6z" fill="#0f0"/>
<path d="M1026 807.5h3.9v3.6h-3.9zM1030.4 807.5h3.9v3.6h-3.9z" fill="#0f0"/>
<path d="M995.5 816h3.9v3.8h-3.9zM999.9 816h3.6v3.8h-3.6z" fill="#0f0"/>
<path d="M995.5 821h3.9v3.8h-3.9zM999.9 821h3.6v3.8h-3.6z" fill="#0f0"/>
<path d="M1027 821h2.8v3.6h-2.8zM1030.3 821h2.7v3.6h-2.7z" fill="#0f0"/>
<path d="M1041 821h2.9v3.6h-2.9zM1044.4 821h2.9v3.6h-2.9zM1047.8 821h2.9v3.6h-2.9z" fill="#0f0"/>
<path d="M1058.5 807.2h4.1v4.6h-4.1zM1063.1 807.2h4.1v4.6h-4.1zM1067.7 807.2h4.1v4.6h-4.1zM1072.3 807.2h4.1v4.6h-4.1z" fill="#0f0"/>
<path d="M1086 807.2h4.1v4.6h-4.1zM1090.6 807.2h4.1v4.6h-4.1z" fill="#0f0"/>
<path d="M1100.5 807.2h4.1v4.6h-4.1zM1105.1 807.2h4.1v4.6h-4.1z" fill="#0f0"/>
<text x="1102" y="817.8" font-size="5" font-weight="bold" fill="#0f0" stroke="#0f0" stroke-width="1.0" textLength="5" lengthAdjust="spacingAndGlyphs" text-anchor="start">1:1</text>
<path d="M1059 820.2h3.5v4.4h-3.5z" fill="#0f0"/>
<path d="M1065.5 821h1.5v3.5h-1.5z" fill="#0f0"/>
<path d="M1073.5 820.2h3.5v4.4h-3.5z" fill="#0f0"/>
<path d="M1088 820.2h3.5v4.4h-3.5z" fill="#0f0"/>
<path d="M1096 821h1.2v3.5h-1.2z" fill="#0f0"/>
<path d="M1102 820.2h3.5v4.4h-3.5z" fill="#0f0"/>
</g>
<g fill="none" stroke-width="1" shape-rendering="crispEdges">
<path d="M994 501.5L1171 501.5" stroke="#00f"/>
<path d="M994 509.5L1171 509.5" stroke="#00f"/>
<path d="M994 517.5L1171 517.5" stroke="#00f"/>
<path d="M994 525.5L1171 525.5" stroke="#00f"/>
<path d="M994 532.5L1171 532.5" stroke="#00f"/>
<path d="M994 540.5L1171 540.5" stroke="#00f"/>
<path d="M994 548.5L1171 548.5" stroke="#00f"/>
<path d="M994 556.5L1171 556.5" stroke="#00f"/>
<path d="M994 564.5L1171 564.5" stroke="#00f"/>
<path d="M994 572.5L1171 572.5" stroke="#00f"/>
<path d="M994 580.5L1171 580.5" stroke="#00f"/>
<path d="M994 588.5L1171 588.5" stroke="#00f"/>
<path d="M994 596.5L1171 596.5" stroke="#00f"/>
<path d="M994 603.5L1171 603.5" stroke="#00f"/>
<path d="M994 611.5L1171 611.5" stroke="#00f"/>
<path d="M994 619.5L1171 619.5" stroke="#00f"/>
<path d="M994 627.5L1171 627.5" stroke="#00f"/>
<path d="M994 635.5L1171 635.5" stroke="#00f"/>
<path d="M994 643.5L1171 643.5" stroke="#00f"/>
<path d="M994 651.5L1171 651.5" stroke="#00f"/>
<path d="M994 659.5L1171 659.5" stroke="#00f"/>
<path d="M994 667.5L1171 667.5" stroke="#00f"/>
<path d="M994 674.5L1171 674.5" stroke="#00f"/>
<path d="M994 682.5L1171 682.5" stroke="#00f"/>
<path d="M994 690.5L1171 690.5" stroke="#00f"/>
<path d="M994 698.5L1171 698.5" stroke="#00f"/>
<path d="M994 706.5L1171 706.5" stroke="#00f"/>
<path d="M994 714.5L1171 714.5" stroke="#00f"/>
<path d="M994 722.5L1171 722.5" stroke="#00f"/>
<path d="M994 730.5L1171 730.5" stroke="#00f"/>
<path d="M994 738.5L1171 738.5" stroke="#00f"/>
<path d="M994 745.5L1171 745.5" stroke="#00f"/>
<path d="M994 753.5L1171 753.5" stroke="#00f"/>
<path d="M994 761.5L1171 761.5" stroke="#00f"/>
<path d="M994 769.5L1171 769.5" stroke="#00f"/>
<path d="M1004.5 501.4L1004.5 781.5" stroke="#00f"/>
<path d="M1041.5 501.4L1041.5 781.5" stroke="#00f"/>
<path d="M1073.5 501.4L1073.5 781.5" stroke="#00f"/>
<path d="M1084.5 501.4L1084.5 781.5" stroke="#00f"/>
<path d="M1119.5 501.4L1119.5 781.5" stroke="#00f"/>
<path d="M1130.5 501.4L1130.5 781.5" stroke="#00f"/>
<path d="M1141.5 501.4L1141.5 781.5" stroke="#00f"/>
<path d="M1119.5 775.5L1141.5 775.5" stroke="#00f"/>
<path d="M993 786.5L1053.7 786.5" stroke="#00f"/>
<path d="M993 791.5L1053.7 791.5" stroke="#00f"/>
<path d="M993 796.5L1053.7 796.5" stroke="#00f"/>
<path d="M993 811.5L1053.7 811.5" stroke="#00f"/>
<path d="M993 816.5L1053.7 816.5" stroke="#00f"/>
<path d="M993 820.5L1053.7 820.5" stroke="#00f"/>
<path d="M1053.7 812.5L1112.5 812.5" stroke="#00f"/>
<path d="M1053.7 819.5L1112.5 819.5" stroke="#00f"/>
<path d="M1082.5 806L1082.5 825" stroke="#00f"/>
<path d="M1097.5 806L1097.5 825" stroke="#00f"/>
<path d="M1060.5 812.5L1060.5 819.4" stroke="#00f"/>
<path d="M1067.5 812.5L1067.5 819.4" stroke="#00f"/>
<path d="M1075.5 812.5L1075.5 819.4" stroke="#00f"/>
</g>
<g>
<text transform="translate(16.9 59.5) scale(1.17 1)" font-size="51.6" font-weight="bold" fill="#ff0" stroke="#000" stroke-width="1.2">A</text>
<text transform="translate(56.4 59.5) scale(1.18 1)" font-size="51.6" font-weight="bold" fill="#ff0" stroke="#000" stroke-width="1.2">0</text>
<text transform="translate(89.5 59.5) scale(1.36 1)" font-size="51.6" font-weight="bold" fill="#ff0" stroke="#000" stroke-width="1.2">-</text>
<text transform="translate(112.7 59.3) scale(1.2177 1)" x="0 48.53 100.27 152.09 200.13 251.46 299.75" y="0" font-family="'Liberation Serif','Noto Serif CJK SC',serif" font-size="44.1" font-weight="bold" fill="#ff0">横向进给装配图</text>
<text transform="translate(810 552.6) scale(0.6803 1)" font-family="'Liberation Serif','Noto Serif CJK SC',serif" font-size="14.2" font-weight="bold" fill="#0f0" stroke="#0f0" stroke-width="0.3" textLength="58.2" lengthAdjust="spacing">技术要求</text>
<text transform="translate(737.5 582.3) scale(0.72 1)" font-family="Liberation Serif, serif" font-size="15" fill="#0f0" stroke="#0f0" stroke-width="0.5">1</text>
<text transform="translate(747.4 581.8) scale(0.6653 1)" font-family="'Liberation Serif','Noto Serif CJK SC',serif" font-size="14.4" font-weight="bold" fill="#0f0" stroke="#0f0" stroke-width="0.3" textLength="223" lengthAdjust="spacing">滚珠丝杠在装配前必须进行预紧。</text>
<text transform="translate(730.5 612) scale(0.72 1)" font-family="Liberation Serif, serif" font-size="15" fill="#0f0" stroke="#0f0" stroke-width="0.5">2</text>
<text transform="translate(740.9 611.5) scale(0.6653 1)" font-family="'Liberation Serif','Noto Serif CJK SC',serif" font-size="14.4" font-weight="bold" fill="#0f0" stroke="#0f0" stroke-width="0.3" textLength="320.9" lengthAdjust="spacing">轴在装配前必须用汽油清洗,其它零件用煤油清洗</text>
<text transform="translate(732.5 644.3) scale(0.72 1)" font-family="Liberation Serif, serif" font-size="15" fill="#0f0" stroke="#0f0" stroke-width="0.5">3</text>
<text transform="translate(743.6 643.8) scale(0.6653 1)" font-family="'Liberation Serif','Noto Serif CJK SC',serif" font-size="14.4" font-weight="bold" fill="#0f0" stroke="#0f0" stroke-width="0.3" textLength="266.2" lengthAdjust="spacing">轴、轴承、轴承座表面上不允许有杂质。</text>
<text transform="translate(738 670.8) scale(0.72 1)" font-family="Liberation Serif, serif" font-size="15" fill="#0f0" stroke="#0f0" stroke-width="0.5">4</text>
<text transform="translate(748 670.3) scale(0.6653 1)" font-family="'Liberation Serif','Noto Serif CJK SC',serif" font-size="14.4" font-weight="bold" fill="#0f0" stroke="#0f0" stroke-width="0.3" textLength="224.8" lengthAdjust="spacing">装配后用手盘车不发生阻塞情况。</text>
<text transform="translate(728 700.4) scale(0.72 1)" font-family="Liberation Serif, serif" font-size="15" fill="#0f0" stroke="#0f0" stroke-width="0.5">5</text>
<text transform="translate(738.1 699.9) scale(0.6653 1)" font-family="'Liberation Serif','Noto Serif CJK SC',serif" font-size="14.4" font-weight="bold" fill="#0f0" stroke="#0f0" stroke-width="0.3" textLength="356.8" lengthAdjust="spacing">装配后拆下油堵，旋入油枪打入润滑油填满轴承空间。</text>
<text transform="translate(1072.5 798.6) scale(0.66 1)" font-family="'Liberation Serif','Noto Serif CJK SC',serif" font-size="11" font-weight="bold" fill="#0f0" stroke="#0f0" stroke-width="0.3" textLength="32.3" lengthAdjust="spacing">装配图</text>
<text transform="translate(1128 792.5) scale(0.62 1)" font-family="'Liberation Serif','Noto Serif CJK SC',serif" font-size="8" font-weight="bold" fill="#0f0" stroke="#0f0" stroke-width="0.3" textLength="46.9" lengthAdjust="spacing">青岛理工大学</text>
<text transform="translate(1135.8 807) scale(0.55 1)" font-family="'Liberation Serif','Noto Serif CJK SC',serif" font-size="7.6" font-weight="bold" fill="#0f0" stroke="#0f0" stroke-width="0.3" textLength="51.5" lengthAdjust="spacing">横向进给装配图</text>
</g>
</svg></body></html>
